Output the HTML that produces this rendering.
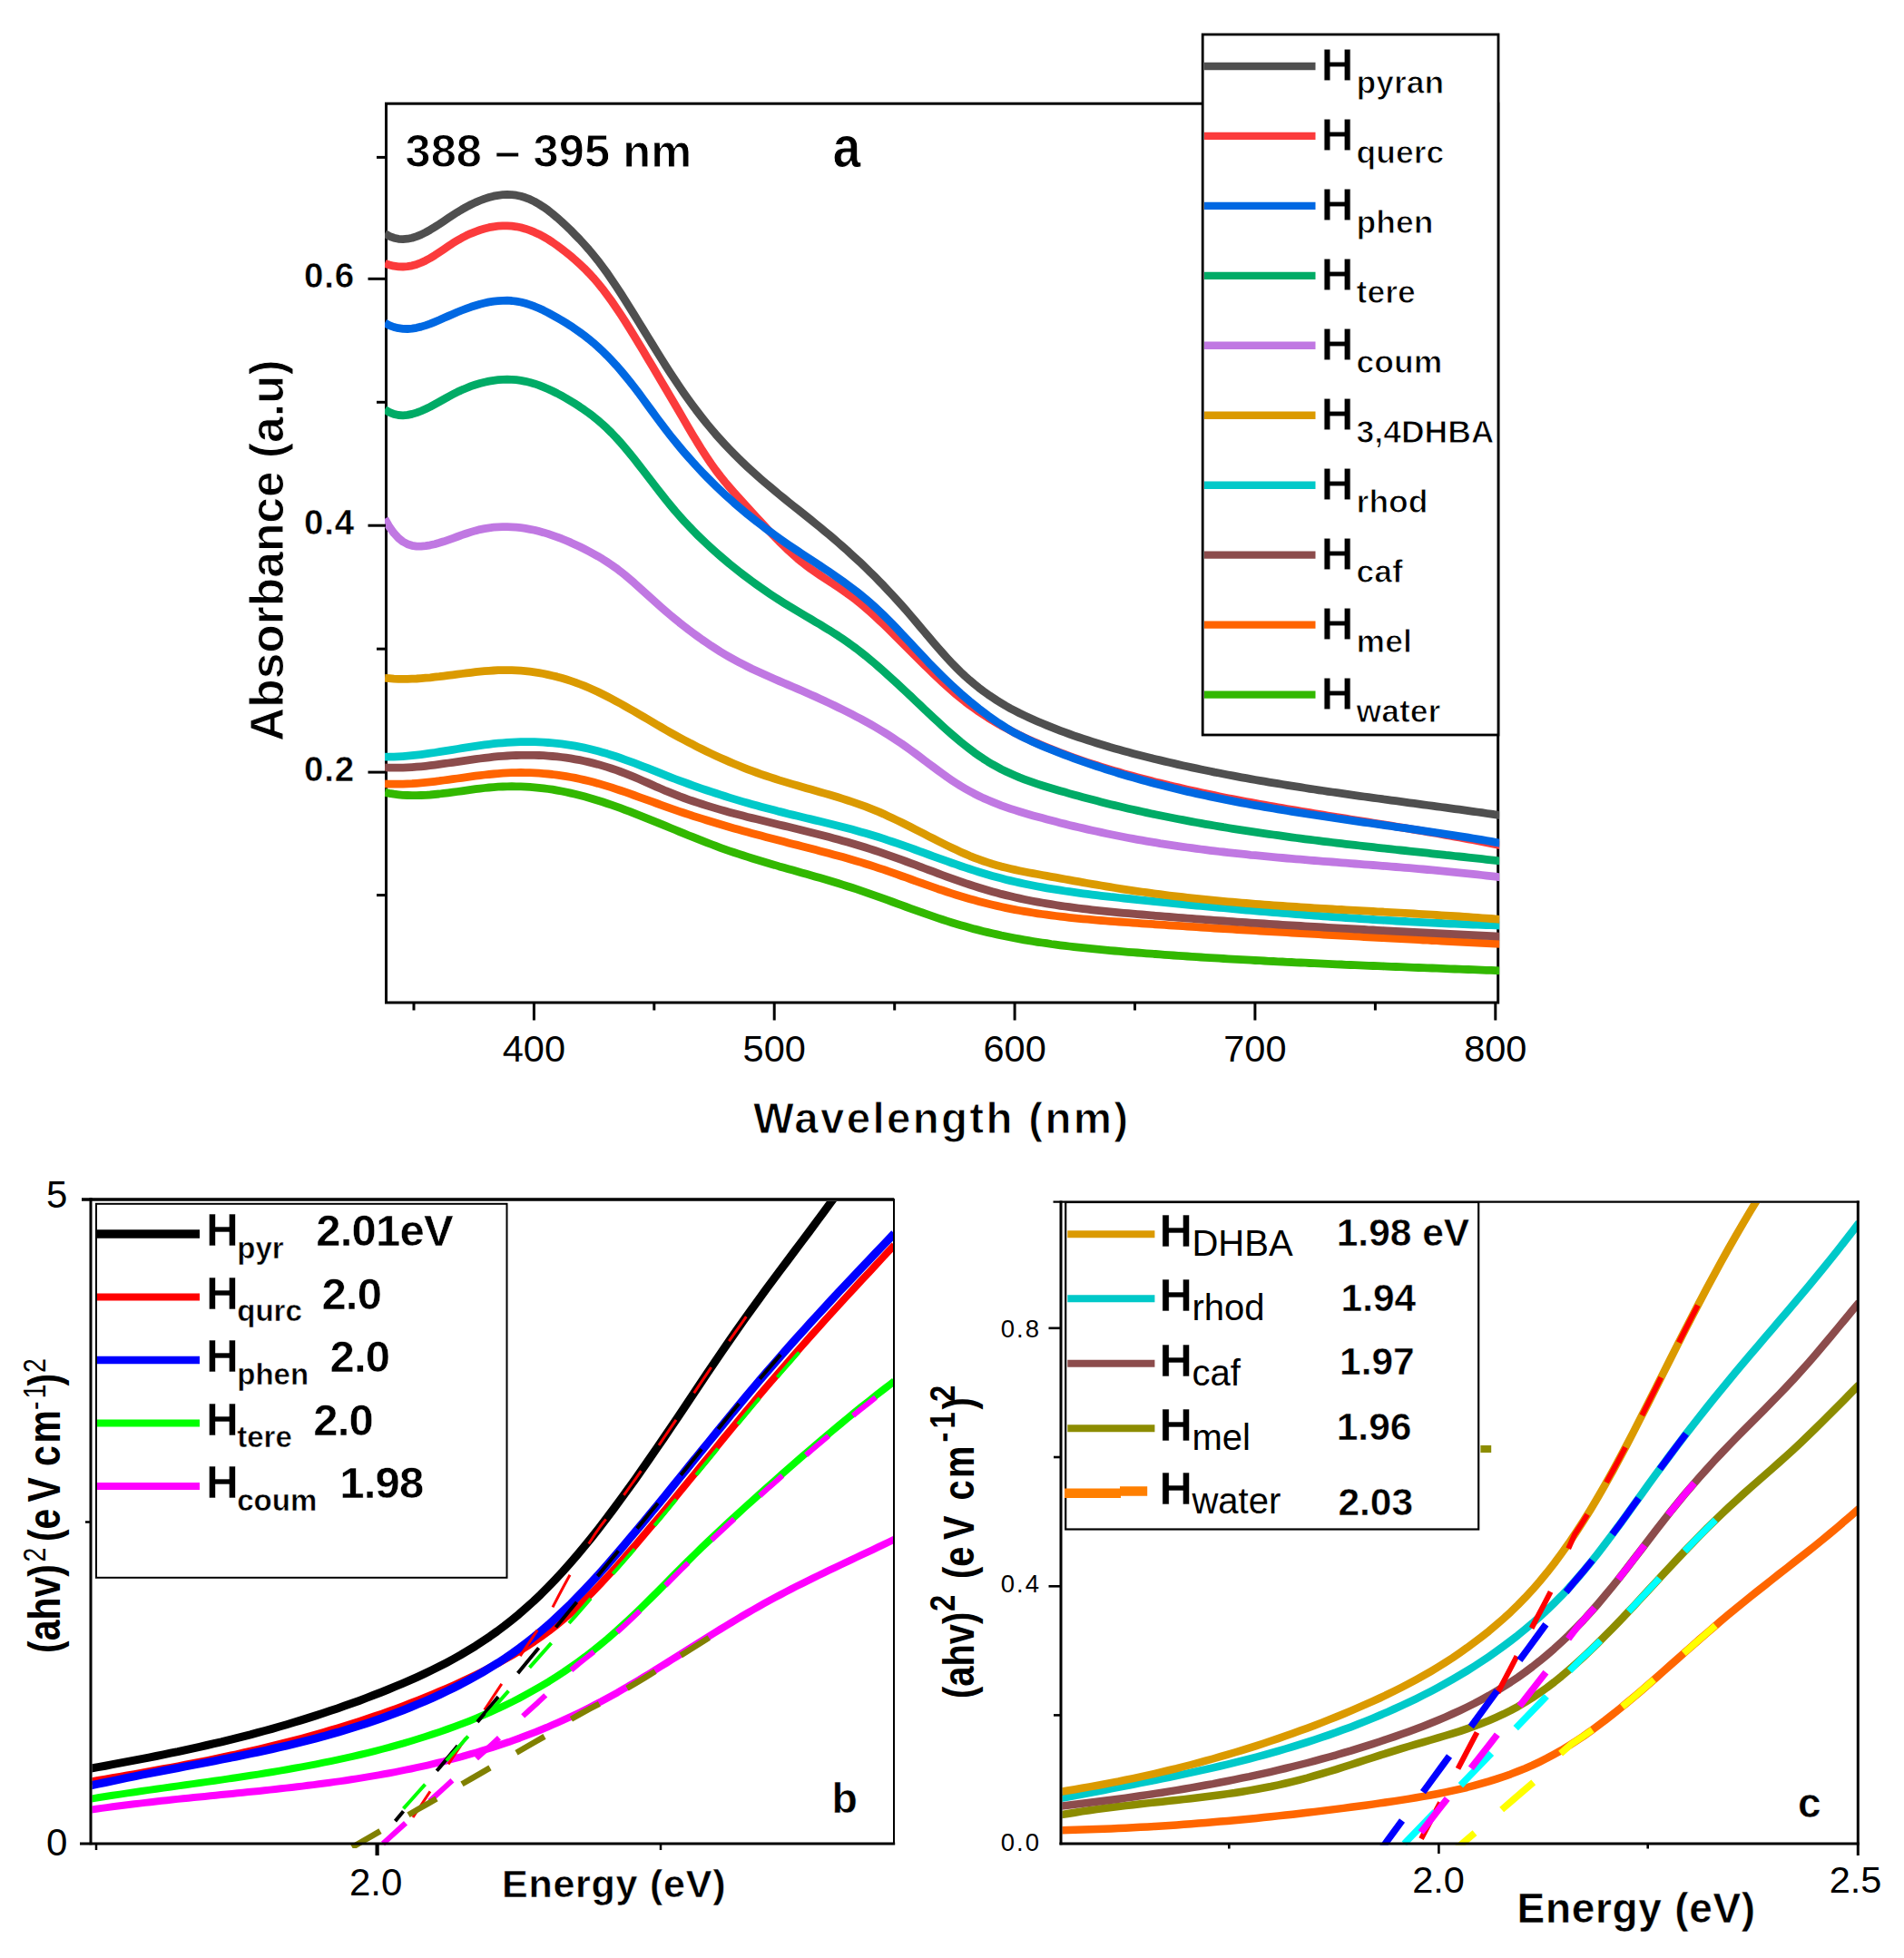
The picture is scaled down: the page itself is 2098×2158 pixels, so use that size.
<!DOCTYPE html>
<html lang="en"><head><meta charset="utf-8"><title>UV-Vis absorbance and Tauc plots</title>
<style>
html,body{margin:0;padding:0;background:#fff;}
svg{display:block}
text{font-family:"Liberation Sans",Arial,Helvetica,sans-serif;fill:#000}
.b{font-weight:bold;stroke:#fff;stroke-width:1px;paint-order:fill stroke}
.b2{font-weight:bold;stroke:#fff;stroke-width:0.5px;paint-order:fill stroke}
.n{font-weight:normal;stroke:none}
.b3{font-weight:bold}
.c{fill:none;stroke-linejoin:round;stroke-linecap:butt}
.k{stroke:#000;fill:none}
</style></head><body>
<svg width="2098" height="2158" viewBox="0 0 2098 2158">
<rect width="2098" height="2158" fill="#fff"/>
<defs>
<clipPath id="ca"><rect x="424" y="115.5" width="1228.2" height="988"/></clipPath>
<clipPath id="cb"><rect x="101.5" y="1324" width="883" height="707"/></clipPath>
<clipPath id="cb2"><rect x="101.5" y="1324" width="883" height="713"/></clipPath>
<clipPath id="cc"><rect x="1170.5" y="1326" width="875.5" height="704.5"/></clipPath>
<clipPath id="cc2"><rect x="1170.5" y="1326" width="875.5" height="707.5"/></clipPath>
</defs>

<g id="panel-a">
<rect class="k" x="425.5" y="114.2" width="1225.2" height="990.8" stroke-width="3"/>
<g clip-path="url(#ca)">
<path class="c" d="M424.0,873.4 429.0,874.4 434.0,875.2 439.0,875.8 444.0,876.3 449.0,876.5 454.0,876.7 459.0,876.7 464.0,876.5 469.0,876.3 474.0,876.0 479.0,875.5 484.0,875.0 488.9,874.4 493.9,873.8 498.9,873.2 503.9,872.5 508.9,871.8 513.9,871.1 518.9,870.4 523.9,869.7 528.9,869.1 533.9,868.5 538.9,868.0 543.9,867.6 548.9,867.2 553.9,867.0 558.9,866.8 563.9,866.7 568.9,866.8 573.9,866.9 578.9,867.1 583.9,867.4 588.9,867.8 593.9,868.3 598.9,868.8 603.9,869.5 608.8,870.2 613.8,871.1 618.8,872.0 623.8,873.0 628.8,874.1 633.8,875.2 638.8,876.5 643.8,877.8 648.8,879.2 653.8,880.7 658.8,882.2 663.8,883.8 668.8,885.5 673.8,887.2 678.8,888.9 683.8,890.7 688.8,892.6 693.8,894.4 698.8,896.4 703.8,898.3 708.8,900.3 713.8,902.3 718.8,904.3 723.8,906.3 728.8,908.4 733.7,910.4 738.7,912.5 743.7,914.5 748.7,916.6 753.7,918.6 758.7,920.7 763.7,922.7 768.7,924.7 773.7,926.7 778.7,928.6 783.7,930.5 788.7,932.4 793.7,934.3 798.7,936.1 803.7,937.8 808.7,939.5 813.7,941.2 818.7,942.8 823.7,944.4 828.7,946.0 833.7,947.5 838.7,949.0 843.7,950.5 848.7,952.0 853.7,953.4 858.6,954.9 863.6,956.3 868.6,957.7 873.6,959.1 878.6,960.5 883.6,961.9 888.6,963.3 893.6,964.7 898.6,966.2 903.6,967.6 908.6,969.0 913.6,970.5 918.6,972.0 923.6,973.5 928.6,975.1 933.6,976.7 938.6,978.3 943.6,979.9 948.6,981.6 953.6,983.3 958.6,985.1 963.6,986.8 968.6,988.6 973.6,990.4 978.5,992.2 983.5,994.0 988.5,995.9 993.5,997.7 998.5,999.5 1003.5,1001.3 1008.5,1003.1 1013.5,1004.9 1018.5,1006.7 1023.5,1008.4 1028.5,1010.1 1033.5,1011.8 1038.5,1013.5 1043.5,1015.1 1048.5,1016.7 1053.5,1018.2 1058.5,1019.7 1063.5,1021.1 1068.5,1022.5 1073.5,1023.9 1078.5,1025.1 1083.5,1026.4 1088.5,1027.6 1093.5,1028.8 1098.5,1029.9 1103.4,1031.0 1108.4,1032.0 1113.4,1033.0 1118.4,1034.0 1123.4,1034.9 1128.4,1035.8 1133.4,1036.6 1138.4,1037.5 1143.4,1038.3 1148.4,1039.0 1153.4,1039.7 1158.4,1040.5 1163.4,1041.1 1168.4,1041.8 1173.4,1042.4 1178.4,1043.0 1183.4,1043.6 1188.4,1044.2 1193.4,1044.7 1198.4,1045.2 1203.4,1045.7 1208.4,1046.2 1213.4,1046.7 1218.4,1047.1 1223.3,1047.6 1228.3,1048.0 1233.3,1048.4 1238.3,1048.9 1243.3,1049.3 1248.3,1049.6 1253.3,1050.0 1258.3,1050.4 1263.3,1050.8 1268.3,1051.2 1273.3,1051.5 1278.3,1051.9 1283.3,1052.3 1288.3,1052.6 1293.3,1053.0 1298.3,1053.3 1303.3,1053.6 1308.3,1054.0 1313.3,1054.3 1318.3,1054.6 1323.3,1055.0 1328.3,1055.3 1333.3,1055.6 1338.3,1055.9 1343.3,1056.2 1348.2,1056.5 1353.2,1056.8 1358.2,1057.1 1363.2,1057.4 1368.2,1057.6 1373.2,1057.9 1378.2,1058.2 1383.2,1058.5 1388.2,1058.7 1393.2,1059.0 1398.2,1059.3 1403.2,1059.5 1408.2,1059.8 1413.2,1060.0 1418.2,1060.3 1423.2,1060.5 1428.2,1060.8 1433.2,1061.0 1438.2,1061.2 1443.2,1061.5 1448.2,1061.7 1453.2,1061.9 1458.2,1062.2 1463.2,1062.4 1468.2,1062.6 1473.1,1062.8 1478.1,1063.0 1483.1,1063.3 1488.1,1063.5 1493.1,1063.7 1498.1,1063.9 1503.1,1064.1 1508.1,1064.3 1513.1,1064.5 1518.1,1064.7 1523.1,1064.9 1528.1,1065.1 1533.1,1065.3 1538.1,1065.5 1543.1,1065.7 1548.1,1065.9 1553.1,1066.1 1558.1,1066.3 1563.1,1066.5 1568.1,1066.7 1573.1,1066.8 1578.1,1067.0 1583.1,1067.2 1588.1,1067.4 1593.0,1067.6 1598.0,1067.8 1603.0,1068.0 1608.0,1068.1 1613.0,1068.3 1618.0,1068.5 1623.0,1068.7 1628.0,1068.9 1633.0,1069.1 1638.0,1069.3 1643.0,1069.4 1648.0,1069.6 1653.0,1069.8" stroke="#32b800" stroke-width="8.8"/>
<path class="c" d="M424.0,863.9 429.0,864.1 434.0,864.2 439.0,864.2 444.0,864.1 449.0,863.9 454.0,863.7 459.0,863.3 464.0,862.9 469.0,862.4 474.0,861.9 479.0,861.3 484.0,860.7 488.9,860.0 493.9,859.4 498.9,858.7 503.9,858.0 508.9,857.3 513.9,856.6 518.9,855.9 523.9,855.2 528.9,854.6 533.9,854.0 538.9,853.5 543.9,853.0 548.9,852.6 553.9,852.2 558.9,851.9 563.9,851.7 568.9,851.6 573.9,851.5 578.9,851.6 583.9,851.7 588.9,851.9 593.9,852.2 598.9,852.6 603.9,853.0 608.8,853.5 613.8,854.2 618.8,854.9 623.8,855.6 628.8,856.5 633.8,857.4 638.8,858.5 643.8,859.6 648.8,860.8 653.8,862.1 658.8,863.4 663.8,864.9 668.8,866.4 673.8,867.9 678.8,869.6 683.8,871.2 688.8,872.9 693.8,874.7 698.8,876.5 703.8,878.3 708.8,880.1 713.8,881.9 718.8,883.7 723.8,885.5 728.8,887.3 733.7,889.1 738.7,890.9 743.7,892.6 748.7,894.3 753.7,896.0 758.7,897.6 763.7,899.3 768.7,900.9 773.7,902.4 778.7,904.0 783.7,905.5 788.7,907.0 793.7,908.5 798.7,910.0 803.7,911.5 808.7,912.9 813.7,914.3 818.7,915.7 823.7,917.1 828.7,918.4 833.7,919.8 838.7,921.1 843.7,922.4 848.7,923.7 853.7,925.0 858.6,926.3 863.6,927.6 868.6,928.9 873.6,930.2 878.6,931.4 883.6,932.7 888.6,934.0 893.6,935.3 898.6,936.6 903.6,937.9 908.6,939.2 913.6,940.5 918.6,941.9 923.6,943.2 928.6,944.6 933.6,946.0 938.6,947.5 943.6,948.9 948.6,950.4 953.6,952.0 958.6,953.5 963.6,955.1 968.6,956.8 973.6,958.4 978.5,960.2 983.5,961.9 988.5,963.7 993.5,965.5 998.5,967.2 1003.5,969.0 1008.5,970.9 1013.5,972.6 1018.5,974.4 1023.5,976.2 1028.5,977.9 1033.5,979.7 1038.5,981.3 1043.5,983.0 1048.5,984.6 1053.5,986.2 1058.5,987.7 1063.5,989.2 1068.5,990.7 1073.5,992.1 1078.5,993.5 1083.5,994.8 1088.5,996.0 1093.5,997.2 1098.5,998.4 1103.4,999.5 1108.4,1000.6 1113.4,1001.6 1118.4,1002.6 1123.4,1003.5 1128.4,1004.4 1133.4,1005.2 1138.4,1006.0 1143.4,1006.8 1148.4,1007.5 1153.4,1008.2 1158.4,1008.9 1163.4,1009.5 1168.4,1010.1 1173.4,1010.7 1178.4,1011.3 1183.4,1011.8 1188.4,1012.3 1193.4,1012.8 1198.4,1013.2 1203.4,1013.7 1208.4,1014.1 1213.4,1014.5 1218.4,1014.9 1223.3,1015.3 1228.3,1015.7 1233.3,1016.0 1238.3,1016.4 1243.3,1016.7 1248.3,1017.1 1253.3,1017.4 1258.3,1017.8 1263.3,1018.1 1268.3,1018.4 1273.3,1018.8 1278.3,1019.1 1283.3,1019.4 1288.3,1019.8 1293.3,1020.1 1298.3,1020.4 1303.3,1020.7 1308.3,1021.1 1313.3,1021.4 1318.3,1021.7 1323.3,1022.0 1328.3,1022.3 1333.3,1022.6 1338.3,1023.0 1343.3,1023.3 1348.2,1023.6 1353.2,1023.9 1358.2,1024.2 1363.2,1024.5 1368.2,1024.8 1373.2,1025.1 1378.2,1025.4 1383.2,1025.7 1388.2,1026.0 1393.2,1026.3 1398.2,1026.6 1403.2,1026.9 1408.2,1027.2 1413.2,1027.4 1418.2,1027.7 1423.2,1028.0 1428.2,1028.3 1433.2,1028.6 1438.2,1028.9 1443.2,1029.2 1448.2,1029.4 1453.2,1029.7 1458.2,1030.0 1463.2,1030.3 1468.2,1030.6 1473.1,1030.8 1478.1,1031.1 1483.1,1031.4 1488.1,1031.7 1493.1,1031.9 1498.1,1032.2 1503.1,1032.5 1508.1,1032.8 1513.1,1033.0 1518.1,1033.3 1523.1,1033.6 1528.1,1033.8 1533.1,1034.1 1538.1,1034.4 1543.1,1034.6 1548.1,1034.9 1553.1,1035.2 1558.1,1035.4 1563.1,1035.7 1568.1,1036.0 1573.1,1036.2 1578.1,1036.5 1583.1,1036.7 1588.1,1037.0 1593.0,1037.3 1598.0,1037.5 1603.0,1037.8 1608.0,1038.1 1613.0,1038.3 1618.0,1038.6 1623.0,1038.8 1628.0,1039.1 1633.0,1039.4 1638.0,1039.6 1643.0,1039.9 1648.0,1040.1 1653.0,1040.4" stroke="#ff6400" stroke-width="8.8"/>
<path class="c" d="M424.0,845.9 429.0,846.1 434.0,846.2 439.0,846.2 444.0,846.1 449.0,845.9 454.0,845.6 459.0,845.2 464.0,844.8 469.0,844.3 474.0,843.7 479.0,843.1 484.0,842.4 488.9,841.7 493.9,841.0 498.9,840.3 503.9,839.6 508.9,838.8 513.9,838.1 518.9,837.4 523.9,836.7 528.9,836.0 533.9,835.4 538.9,834.8 543.9,834.2 548.9,833.7 553.9,833.3 558.9,833.0 563.9,832.7 568.9,832.5 573.9,832.3 578.9,832.3 583.9,832.3 588.9,832.3 593.9,832.5 598.9,832.7 603.9,833.1 608.8,833.5 613.8,833.9 618.8,834.5 623.8,835.2 628.8,835.9 633.8,836.8 638.8,837.7 643.8,838.7 648.8,839.9 653.8,841.1 658.8,842.4 663.8,843.9 668.8,845.4 673.8,847.0 678.8,848.7 683.8,850.5 688.8,852.4 693.8,854.4 698.8,856.4 703.8,858.5 708.8,860.7 713.8,862.9 718.8,865.1 723.8,867.4 728.8,869.5 733.7,871.7 738.7,873.7 743.7,875.7 748.7,877.7 753.7,879.5 758.7,881.3 763.7,883.0 768.7,884.7 773.7,886.3 778.7,887.9 783.7,889.4 788.7,890.9 793.7,892.4 798.7,893.8 803.7,895.2 808.7,896.5 813.7,897.8 818.7,899.1 823.7,900.4 828.7,901.6 833.7,902.8 838.7,904.1 843.7,905.3 848.7,906.5 853.7,907.7 858.6,908.9 863.6,910.1 868.6,911.3 873.6,912.5 878.6,913.7 883.6,915.0 888.6,916.2 893.6,917.5 898.6,918.7 903.6,920.0 908.6,921.3 913.6,922.6 918.6,923.9 923.6,925.3 928.6,926.7 933.6,928.1 938.6,929.5 943.6,931.0 948.6,932.5 953.6,934.0 958.6,935.6 963.6,937.2 968.6,938.9 973.6,940.6 978.5,942.3 983.5,944.1 988.5,945.9 993.5,947.7 998.5,949.5 1003.5,951.4 1008.5,953.2 1013.5,955.1 1018.5,957.0 1023.5,958.9 1028.5,960.7 1033.5,962.6 1038.5,964.5 1043.5,966.3 1048.5,968.1 1053.5,969.9 1058.5,971.6 1063.5,973.4 1068.5,975.0 1073.5,976.7 1078.5,978.3 1083.5,979.8 1088.5,981.3 1093.5,982.7 1098.5,984.1 1103.4,985.4 1108.4,986.6 1113.4,987.8 1118.4,989.0 1123.4,990.1 1128.4,991.2 1133.4,992.2 1138.4,993.2 1143.4,994.1 1148.4,995.0 1153.4,995.9 1158.4,996.7 1163.4,997.5 1168.4,998.3 1173.4,999.0 1178.4,999.7 1183.4,1000.3 1188.4,1001.0 1193.4,1001.6 1198.4,1002.2 1203.4,1002.8 1208.4,1003.3 1213.4,1003.8 1218.4,1004.3 1223.3,1004.8 1228.3,1005.3 1233.3,1005.8 1238.3,1006.3 1243.3,1006.7 1248.3,1007.1 1253.3,1007.6 1258.3,1008.0 1263.3,1008.4 1268.3,1008.9 1273.3,1009.3 1278.3,1009.7 1283.3,1010.1 1288.3,1010.5 1293.3,1010.9 1298.3,1011.3 1303.3,1011.7 1308.3,1012.1 1313.3,1012.4 1318.3,1012.8 1323.3,1013.2 1328.3,1013.6 1333.3,1013.9 1338.3,1014.3 1343.3,1014.7 1348.2,1015.0 1353.2,1015.4 1358.2,1015.7 1363.2,1016.1 1368.2,1016.4 1373.2,1016.7 1378.2,1017.1 1383.2,1017.4 1388.2,1017.7 1393.2,1018.0 1398.2,1018.4 1403.2,1018.7 1408.2,1019.0 1413.2,1019.3 1418.2,1019.6 1423.2,1019.9 1428.2,1020.2 1433.2,1020.5 1438.2,1020.8 1443.2,1021.1 1448.2,1021.4 1453.2,1021.7 1458.2,1022.0 1463.2,1022.3 1468.2,1022.6 1473.1,1022.8 1478.1,1023.1 1483.1,1023.4 1488.1,1023.7 1493.1,1024.0 1498.1,1024.2 1503.1,1024.5 1508.1,1024.8 1513.1,1025.0 1518.1,1025.3 1523.1,1025.6 1528.1,1025.8 1533.1,1026.1 1538.1,1026.3 1543.1,1026.6 1548.1,1026.9 1553.1,1027.1 1558.1,1027.4 1563.1,1027.6 1568.1,1027.9 1573.1,1028.1 1578.1,1028.4 1583.1,1028.6 1588.1,1028.9 1593.0,1029.1 1598.0,1029.4 1603.0,1029.6 1608.0,1029.9 1613.0,1030.1 1618.0,1030.4 1623.0,1030.6 1628.0,1030.8 1633.0,1031.1 1638.0,1031.3 1643.0,1031.6 1648.0,1031.8 1653.0,1032.1" stroke="#8c4c4c" stroke-width="8.8"/>
<path class="c" d="M424.0,834.2 429.0,834.2 434.0,834.1 439.0,833.9 444.0,833.6 449.0,833.2 454.0,832.7 459.0,832.2 464.0,831.6 469.0,830.9 474.0,830.2 479.0,829.5 484.0,828.7 488.9,827.9 493.9,827.1 498.9,826.3 503.9,825.5 508.9,824.7 513.9,823.9 518.9,823.1 523.9,822.3 528.9,821.6 533.9,820.9 538.9,820.3 543.9,819.7 548.9,819.2 553.9,818.8 558.9,818.4 563.9,818.1 568.9,817.9 573.9,817.7 578.9,817.7 583.9,817.7 588.9,817.7 593.9,817.9 598.9,818.1 603.9,818.5 608.8,818.9 613.8,819.4 618.8,819.9 623.8,820.6 628.8,821.3 633.8,822.2 638.8,823.1 643.8,824.1 648.8,825.2 653.8,826.5 658.8,827.8 663.8,829.2 668.8,830.6 673.8,832.2 678.8,833.8 683.8,835.5 688.8,837.3 693.8,839.1 698.8,840.9 703.8,842.8 708.8,844.8 713.8,846.7 718.8,848.7 723.8,850.7 728.8,852.7 733.7,854.6 738.7,856.6 743.7,858.5 748.7,860.3 753.7,862.2 758.7,864.0 763.7,865.8 768.7,867.6 773.7,869.3 778.7,871.0 783.7,872.7 788.7,874.3 793.7,875.9 798.7,877.5 803.7,879.1 808.7,880.6 813.7,882.1 818.7,883.6 823.7,885.0 828.7,886.4 833.7,887.8 838.7,889.2 843.7,890.5 848.7,891.8 853.7,893.1 858.6,894.4 863.6,895.6 868.6,896.9 873.6,898.1 878.6,899.3 883.6,900.5 888.6,901.7 893.6,902.9 898.6,904.1 903.6,905.3 908.6,906.5 913.6,907.7 918.6,909.0 923.6,910.2 928.6,911.5 933.6,912.8 938.6,914.1 943.6,915.5 948.6,916.9 953.6,918.3 958.6,919.8 963.6,921.3 968.6,922.8 973.6,924.4 978.5,926.1 983.5,927.7 988.5,929.4 993.5,931.2 998.5,932.9 1003.5,934.7 1008.5,936.5 1013.5,938.3 1018.5,940.2 1023.5,942.0 1028.5,943.8 1033.5,945.6 1038.5,947.4 1043.5,949.2 1048.5,951.0 1053.5,952.7 1058.5,954.5 1063.5,956.2 1068.5,957.8 1073.5,959.4 1078.5,961.0 1083.5,962.5 1088.5,964.0 1093.5,965.4 1098.5,966.8 1103.4,968.1 1108.4,969.4 1113.4,970.6 1118.4,971.8 1123.4,972.9 1128.4,974.0 1133.4,975.0 1138.4,976.0 1143.4,977.0 1148.4,977.9 1153.4,978.8 1158.4,979.6 1163.4,980.4 1168.4,981.2 1173.4,982.0 1178.4,982.7 1183.4,983.4 1188.4,984.1 1193.4,984.8 1198.4,985.4 1203.4,986.1 1208.4,986.7 1213.4,987.3 1218.4,987.8 1223.3,988.4 1228.3,988.9 1233.3,989.5 1238.3,990.0 1243.3,990.5 1248.3,991.0 1253.3,991.6 1258.3,992.1 1263.3,992.6 1268.3,993.1 1273.3,993.6 1278.3,994.1 1283.3,994.6 1288.3,995.1 1293.3,995.6 1298.3,996.0 1303.3,996.5 1308.3,997.0 1313.3,997.5 1318.3,998.0 1323.3,998.4 1328.3,998.9 1333.3,999.4 1338.3,999.8 1343.3,1000.3 1348.2,1000.7 1353.2,1001.2 1358.2,1001.6 1363.2,1002.1 1368.2,1002.5 1373.2,1003.0 1378.2,1003.4 1383.2,1003.8 1388.2,1004.3 1393.2,1004.7 1398.2,1005.1 1403.2,1005.5 1408.2,1005.9 1413.2,1006.3 1418.2,1006.7 1423.2,1007.1 1428.2,1007.5 1433.2,1007.9 1438.2,1008.3 1443.2,1008.7 1448.2,1009.0 1453.2,1009.4 1458.2,1009.8 1463.2,1010.1 1468.2,1010.5 1473.1,1010.8 1478.1,1011.2 1483.1,1011.5 1488.1,1011.9 1493.1,1012.2 1498.1,1012.5 1503.1,1012.9 1508.1,1013.2 1513.1,1013.5 1518.1,1013.8 1523.1,1014.1 1528.1,1014.4 1533.1,1014.7 1538.1,1015.0 1543.1,1015.3 1548.1,1015.5 1553.1,1015.8 1558.1,1016.1 1563.1,1016.3 1568.1,1016.6 1573.1,1016.8 1578.1,1017.1 1583.1,1017.3 1588.1,1017.5 1593.0,1017.8 1598.0,1018.0 1603.0,1018.2 1608.0,1018.4 1613.0,1018.6 1618.0,1018.8 1623.0,1019.0 1628.0,1019.1 1633.0,1019.3 1638.0,1019.5 1643.0,1019.7 1648.0,1019.8 1653.0,1020.0" stroke="#00c9c9" stroke-width="8.8"/>
<path class="c" d="M424.0,747.3 429.0,747.7 434.0,748.1 439.0,748.3 444.0,748.4 449.0,748.4 454.0,748.2 459.0,748.0 464.0,747.6 469.0,747.2 474.0,746.8 479.0,746.2 484.0,745.7 488.9,745.1 493.9,744.4 498.9,743.8 503.9,743.1 508.9,742.5 513.9,741.9 518.9,741.3 523.9,740.7 528.9,740.2 533.9,739.7 538.9,739.3 543.9,739.0 548.9,738.7 553.9,738.6 558.9,738.6 563.9,738.7 568.9,738.9 573.9,739.2 578.9,739.6 583.9,740.2 588.9,740.9 593.9,741.6 598.9,742.5 603.9,743.6 608.8,744.7 613.8,745.9 618.8,747.3 623.8,748.8 628.8,750.4 633.8,752.1 638.8,754.0 643.8,755.9 648.8,758.0 653.8,760.2 658.8,762.5 663.8,765.0 668.8,767.5 673.8,770.1 678.8,772.8 683.8,775.5 688.8,778.3 693.8,781.2 698.8,784.0 703.8,787.0 708.8,789.9 713.8,792.8 718.8,795.8 723.8,798.7 728.8,801.6 733.7,804.5 738.7,807.3 743.7,810.1 748.7,812.8 753.7,815.5 758.7,818.1 763.7,820.7 768.7,823.3 773.7,825.8 778.7,828.2 783.7,830.6 788.7,832.9 793.7,835.2 798.7,837.4 803.7,839.6 808.7,841.7 813.7,843.8 818.7,845.8 823.7,847.8 828.7,849.7 833.7,851.5 838.7,853.3 843.7,855.0 848.7,856.7 853.7,858.3 858.6,859.9 863.6,861.4 868.6,862.9 873.6,864.4 878.6,865.8 883.6,867.2 888.6,868.7 893.6,870.1 898.6,871.5 903.6,872.9 908.6,874.4 913.6,875.8 918.6,877.3 923.6,878.8 928.6,880.4 933.6,882.0 938.6,883.6 943.6,885.3 948.6,887.1 953.6,888.9 958.6,890.9 963.6,892.9 968.6,894.9 973.6,897.1 978.5,899.4 983.5,901.7 988.5,904.1 993.5,906.5 998.5,909.0 1003.5,911.5 1008.5,914.1 1013.5,916.6 1018.5,919.2 1023.5,921.8 1028.5,924.3 1033.5,926.9 1038.5,929.4 1043.5,931.9 1048.5,934.3 1053.5,936.6 1058.5,938.9 1063.5,941.1 1068.5,943.3 1073.5,945.3 1078.5,947.2 1083.5,949.0 1088.5,950.7 1093.5,952.3 1098.5,953.7 1103.4,955.1 1108.4,956.3 1113.4,957.5 1118.4,958.6 1123.4,959.7 1128.4,960.7 1133.4,961.7 1138.4,962.6 1143.4,963.5 1148.4,964.5 1153.4,965.4 1158.4,966.3 1163.4,967.2 1168.4,968.1 1173.4,969.0 1178.4,969.9 1183.4,970.8 1188.4,971.7 1193.4,972.6 1198.4,973.5 1203.4,974.3 1208.4,975.2 1213.4,976.0 1218.4,976.9 1223.3,977.7 1228.3,978.5 1233.3,979.3 1238.3,980.1 1243.3,980.8 1248.3,981.6 1253.3,982.3 1258.3,983.0 1263.3,983.7 1268.3,984.4 1273.3,985.1 1278.3,985.7 1283.3,986.3 1288.3,987.0 1293.3,987.6 1298.3,988.2 1303.3,988.7 1308.3,989.3 1313.3,989.9 1318.3,990.4 1323.3,990.9 1328.3,991.4 1333.3,991.9 1338.3,992.4 1343.3,992.9 1348.2,993.3 1353.2,993.8 1358.2,994.2 1363.2,994.7 1368.2,995.1 1373.2,995.5 1378.2,995.9 1383.2,996.3 1388.2,996.7 1393.2,997.1 1398.2,997.4 1403.2,997.8 1408.2,998.2 1413.2,998.5 1418.2,998.8 1423.2,999.2 1428.2,999.5 1433.2,999.8 1438.2,1000.2 1443.2,1000.5 1448.2,1000.8 1453.2,1001.1 1458.2,1001.4 1463.2,1001.7 1468.2,1002.0 1473.1,1002.3 1478.1,1002.5 1483.1,1002.8 1488.1,1003.1 1493.1,1003.4 1498.1,1003.7 1503.1,1003.9 1508.1,1004.2 1513.1,1004.5 1518.1,1004.8 1523.1,1005.0 1528.1,1005.3 1533.1,1005.6 1538.1,1005.9 1543.1,1006.1 1548.1,1006.4 1553.1,1006.7 1558.1,1007.0 1563.1,1007.3 1568.1,1007.6 1573.1,1007.9 1578.1,1008.2 1583.1,1008.5 1588.1,1008.8 1593.0,1009.1 1598.0,1009.4 1603.0,1009.7 1608.0,1010.0 1613.0,1010.4 1618.0,1010.7 1623.0,1011.1 1628.0,1011.4 1633.0,1011.8 1638.0,1012.1 1643.0,1012.5 1648.0,1012.9 1653.0,1013.3" stroke="#db9a00" stroke-width="8.8"/>
<path class="c" d="M424.0,571.7 429.0,580.6 434.0,587.6 439.0,593.0 444.0,597.0 449.0,599.7 454.0,601.3 459.0,602.1 464.0,602.1 469.0,601.6 474.0,600.8 479.0,599.7 484.0,598.3 488.9,596.8 493.9,595.1 498.9,593.3 503.9,591.5 508.9,589.7 513.9,588.0 518.9,586.4 523.9,584.9 528.9,583.6 533.9,582.6 538.9,581.8 543.9,581.2 548.9,580.8 553.9,580.6 558.9,580.6 563.9,580.8 568.9,581.1 573.9,581.7 578.9,582.4 583.9,583.3 588.9,584.3 593.9,585.6 598.9,586.9 603.9,588.4 608.8,590.1 613.8,591.8 618.8,593.7 623.8,595.8 628.8,597.9 633.8,600.2 638.8,602.5 643.8,605.0 648.8,607.6 653.8,610.3 658.8,613.1 663.8,616.1 668.8,619.3 673.8,622.6 678.8,626.1 683.8,629.9 688.8,633.9 693.8,638.1 698.8,642.4 703.8,646.9 708.8,651.5 713.8,656.1 718.8,660.6 723.8,665.1 728.8,669.5 733.7,673.8 738.7,678.0 743.7,682.1 748.7,686.2 753.7,690.1 758.7,694.0 763.7,697.7 768.7,701.4 773.7,705.0 778.7,708.4 783.7,711.8 788.7,715.0 793.7,718.2 798.7,721.2 803.7,724.1 808.7,726.9 813.7,729.6 818.7,732.2 823.7,734.7 828.7,737.2 833.7,739.5 838.7,741.8 843.7,744.1 848.7,746.3 853.7,748.5 858.6,750.6 863.6,752.7 868.6,754.9 873.6,757.0 878.6,759.1 883.6,761.3 888.6,763.5 893.6,765.7 898.6,767.9 903.6,770.2 908.6,772.5 913.6,774.9 918.6,777.2 923.6,779.7 928.6,782.1 933.6,784.6 938.6,787.2 943.6,789.8 948.6,792.4 953.6,795.2 958.6,797.9 963.6,800.8 968.6,803.7 973.6,806.7 978.5,809.8 983.5,813.0 988.5,816.3 993.5,819.6 998.5,823.1 1003.5,826.7 1008.5,830.4 1013.5,834.1 1018.5,837.9 1023.5,841.7 1028.5,845.4 1033.5,849.1 1038.5,852.8 1043.5,856.4 1048.5,859.8 1053.5,863.1 1058.5,866.3 1063.5,869.2 1068.5,872.0 1073.5,874.7 1078.5,877.2 1083.5,879.6 1088.5,881.8 1093.5,883.9 1098.5,885.9 1103.4,887.8 1108.4,889.6 1113.4,891.3 1118.4,892.9 1123.4,894.5 1128.4,896.0 1133.4,897.5 1138.4,898.9 1143.4,900.3 1148.4,901.6 1153.4,903.0 1158.4,904.3 1163.4,905.6 1168.4,906.9 1173.4,908.1 1178.4,909.4 1183.4,910.6 1188.4,911.8 1193.4,912.9 1198.4,914.1 1203.4,915.2 1208.4,916.3 1213.4,917.4 1218.4,918.5 1223.3,919.5 1228.3,920.5 1233.3,921.5 1238.3,922.5 1243.3,923.5 1248.3,924.4 1253.3,925.3 1258.3,926.2 1263.3,927.1 1268.3,927.9 1273.3,928.7 1278.3,929.6 1283.3,930.3 1288.3,931.1 1293.3,931.9 1298.3,932.6 1303.3,933.3 1308.3,934.0 1313.3,934.7 1318.3,935.4 1323.3,936.0 1328.3,936.6 1333.3,937.3 1338.3,937.9 1343.3,938.5 1348.2,939.0 1353.2,939.6 1358.2,940.2 1363.2,940.7 1368.2,941.2 1373.2,941.7 1378.2,942.3 1383.2,942.7 1388.2,943.2 1393.2,943.7 1398.2,944.2 1403.2,944.6 1408.2,945.1 1413.2,945.5 1418.2,946.0 1423.2,946.4 1428.2,946.8 1433.2,947.2 1438.2,947.7 1443.2,948.1 1448.2,948.5 1453.2,948.9 1458.2,949.3 1463.2,949.7 1468.2,950.0 1473.1,950.4 1478.1,950.8 1483.1,951.2 1488.1,951.6 1493.1,952.0 1498.1,952.4 1503.1,952.8 1508.1,953.1 1513.1,953.5 1518.1,953.9 1523.1,954.3 1528.1,954.7 1533.1,955.1 1538.1,955.5 1543.1,955.9 1548.1,956.3 1553.1,956.7 1558.1,957.2 1563.1,957.6 1568.1,958.0 1573.1,958.5 1578.1,958.9 1583.1,959.4 1588.1,959.8 1593.0,960.3 1598.0,960.8 1603.0,961.3 1608.0,961.8 1613.0,962.3 1618.0,962.8 1623.0,963.4 1628.0,963.9 1633.0,964.5 1638.0,965.1 1643.0,965.6 1648.0,966.2 1653.0,966.9" stroke="#c078e2" stroke-width="8.8"/>
<path class="c" d="M424.0,451.3 429.0,454.4 434.0,456.4 439.0,457.5 444.0,457.8 449.0,457.4 454.0,456.4 459.0,454.9 464.0,453.0 469.0,450.8 474.0,448.4 479.0,445.7 484.0,442.9 488.9,440.1 493.9,437.3 498.9,434.7 503.9,432.1 508.9,429.8 513.9,427.7 518.9,425.7 523.9,424.0 528.9,422.5 533.9,421.2 538.9,420.1 543.9,419.3 548.9,418.7 553.9,418.3 558.9,418.2 563.9,418.3 568.9,418.7 573.9,419.4 578.9,420.3 583.9,421.5 588.9,422.9 593.9,424.6 598.9,426.6 603.9,428.7 608.8,431.0 613.8,433.5 618.8,436.2 623.8,439.0 628.8,442.0 633.8,445.1 638.8,448.3 643.8,451.7 648.8,455.3 653.8,459.1 658.8,463.2 663.8,467.5 668.8,472.1 673.8,477.0 678.8,482.2 683.8,487.8 688.8,493.6 693.8,499.6 698.8,505.8 703.8,512.2 708.8,518.6 713.8,525.1 718.8,531.6 723.8,538.1 728.8,544.5 733.7,550.8 738.7,556.9 743.7,562.9 748.7,568.6 753.7,574.2 758.7,579.5 763.7,584.7 768.7,589.8 773.7,594.7 778.7,599.4 783.7,604.0 788.7,608.5 793.7,612.9 798.7,617.2 803.7,621.4 808.7,625.4 813.7,629.4 818.7,633.3 823.7,637.1 828.7,640.8 833.7,644.4 838.7,647.9 843.7,651.4 848.7,654.8 853.7,658.1 858.6,661.3 863.6,664.4 868.6,667.5 873.6,670.6 878.6,673.6 883.6,676.5 888.6,679.5 893.6,682.4 898.6,685.4 903.6,688.3 908.6,691.4 913.6,694.4 918.6,697.6 923.6,700.8 928.6,704.2 933.6,707.6 938.6,711.2 943.6,714.9 948.6,718.8 953.6,722.7 958.6,726.8 963.6,731.0 968.6,735.3 973.6,739.7 978.5,744.2 983.5,748.7 988.5,753.3 993.5,757.9 998.5,762.6 1003.5,767.3 1008.5,772.1 1013.5,776.8 1018.5,781.6 1023.5,786.3 1028.5,791.0 1033.5,795.6 1038.5,800.2 1043.5,804.7 1048.5,809.1 1053.5,813.4 1058.5,817.6 1063.5,821.6 1068.5,825.5 1073.5,829.3 1078.5,832.8 1083.5,836.2 1088.5,839.4 1093.5,842.4 1098.5,845.2 1103.4,847.9 1108.4,850.3 1113.4,852.6 1118.4,854.8 1123.4,856.9 1128.4,858.8 1133.4,860.6 1138.4,862.4 1143.4,864.1 1148.4,865.7 1153.4,867.2 1158.4,868.7 1163.4,870.2 1168.4,871.7 1173.4,873.1 1178.4,874.6 1183.4,876.0 1188.4,877.3 1193.4,878.7 1198.4,880.0 1203.4,881.3 1208.4,882.6 1213.4,883.9 1218.4,885.2 1223.3,886.4 1228.3,887.6 1233.3,888.8 1238.3,890.0 1243.3,891.2 1248.3,892.3 1253.3,893.4 1258.3,894.5 1263.3,895.6 1268.3,896.7 1273.3,897.7 1278.3,898.8 1283.3,899.8 1288.3,900.8 1293.3,901.8 1298.3,902.8 1303.3,903.7 1308.3,904.6 1313.3,905.6 1318.3,906.5 1323.3,907.4 1328.3,908.3 1333.3,909.1 1338.3,910.0 1343.3,910.8 1348.2,911.7 1353.2,912.5 1358.2,913.3 1363.2,914.1 1368.2,914.9 1373.2,915.6 1378.2,916.4 1383.2,917.2 1388.2,917.9 1393.2,918.6 1398.2,919.3 1403.2,920.0 1408.2,920.7 1413.2,921.4 1418.2,922.1 1423.2,922.8 1428.2,923.5 1433.2,924.1 1438.2,924.8 1443.2,925.4 1448.2,926.0 1453.2,926.6 1458.2,927.3 1463.2,927.9 1468.2,928.5 1473.1,929.1 1478.1,929.7 1483.1,930.3 1488.1,930.8 1493.1,931.4 1498.1,932.0 1503.1,932.6 1508.1,933.1 1513.1,933.7 1518.1,934.3 1523.1,934.8 1528.1,935.4 1533.1,935.9 1538.1,936.5 1543.1,937.0 1548.1,937.5 1553.1,938.1 1558.1,938.6 1563.1,939.2 1568.1,939.7 1573.1,940.2 1578.1,940.8 1583.1,941.3 1588.1,941.8 1593.0,942.4 1598.0,942.9 1603.0,943.5 1608.0,944.0 1613.0,944.5 1618.0,945.1 1623.0,945.6 1628.0,946.2 1633.0,946.7 1638.0,947.3 1643.0,947.8 1648.0,948.4 1653.0,949.0" stroke="#00ab66" stroke-width="8.8"/>
<path class="c" d="M424.0,290.3 429.0,292.0 434.0,293.2 439.0,293.8 444.0,294.0 449.0,293.6 454.0,292.8 459.0,291.4 464.0,289.5 469.0,287.2 474.0,284.5 479.0,281.4 484.0,278.1 488.9,274.8 493.9,271.4 498.9,268.1 503.9,265.1 508.9,262.2 513.9,259.6 518.9,257.3 523.9,255.3 528.9,253.5 533.9,252.0 538.9,250.7 543.9,249.8 548.9,249.2 553.9,248.9 558.9,248.9 563.9,249.2 568.9,249.8 573.9,250.8 578.9,252.2 583.9,253.9 588.9,255.9 593.9,258.2 598.9,260.9 603.9,263.8 608.8,267.0 613.8,270.5 618.8,274.2 623.8,278.1 628.8,282.2 633.8,286.5 638.8,291.0 643.8,295.7 648.8,300.8 653.8,306.2 658.8,312.0 663.8,318.2 668.8,324.8 673.8,331.7 678.8,338.9 683.8,346.4 688.8,354.2 693.8,362.1 698.8,370.3 703.8,378.5 708.8,386.8 713.8,395.2 718.8,403.6 723.8,412.0 728.8,420.4 733.7,428.8 738.7,437.3 743.7,445.8 748.7,454.3 753.7,462.9 758.7,471.4 763.7,479.9 768.7,488.1 773.7,496.2 778.7,503.9 783.7,511.3 788.7,518.3 793.7,524.8 798.7,531.0 803.7,536.9 808.7,542.6 813.7,548.2 818.7,553.7 823.7,559.2 828.7,564.7 833.7,570.2 838.7,575.6 843.7,581.0 848.7,586.4 853.7,591.6 858.6,596.8 863.6,601.7 868.6,606.6 873.6,611.1 878.6,615.5 883.6,619.6 888.6,623.4 893.6,627.1 898.6,630.6 903.6,634.0 908.6,637.3 913.6,640.6 918.6,643.8 923.6,647.2 928.6,650.6 933.6,654.1 938.6,657.8 943.6,661.6 948.6,665.7 953.6,669.9 958.6,674.3 963.6,678.8 968.6,683.4 973.6,688.1 978.5,692.9 983.5,697.8 988.5,702.8 993.5,707.8 998.5,712.8 1003.5,717.8 1008.5,722.8 1013.5,727.8 1018.5,732.8 1023.5,737.7 1028.5,742.6 1033.5,747.3 1038.5,752.0 1043.5,756.6 1048.5,761.0 1053.5,765.3 1058.5,769.4 1063.5,773.4 1068.5,777.2 1073.5,780.8 1078.5,784.3 1083.5,787.6 1088.5,790.9 1093.5,794.0 1098.5,796.9 1103.4,799.8 1108.4,802.5 1113.4,805.2 1118.4,807.8 1123.4,810.2 1128.4,812.6 1133.4,814.9 1138.4,817.2 1143.4,819.4 1148.4,821.5 1153.4,823.6 1158.4,825.6 1163.4,827.6 1168.4,829.5 1173.4,831.4 1178.4,833.3 1183.4,835.1 1188.4,836.9 1193.4,838.6 1198.4,840.3 1203.4,841.9 1208.4,843.5 1213.4,845.1 1218.4,846.7 1223.3,848.2 1228.3,849.7 1233.3,851.1 1238.3,852.6 1243.3,854.0 1248.3,855.3 1253.3,856.7 1258.3,858.0 1263.3,859.3 1268.3,860.6 1273.3,861.9 1278.3,863.1 1283.3,864.3 1288.3,865.6 1293.3,866.7 1298.3,867.9 1303.3,869.1 1308.3,870.2 1313.3,871.3 1318.3,872.4 1323.3,873.5 1328.3,874.6 1333.3,875.6 1338.3,876.6 1343.3,877.7 1348.2,878.7 1353.2,879.7 1358.2,880.6 1363.2,881.6 1368.2,882.6 1373.2,883.5 1378.2,884.4 1383.2,885.4 1388.2,886.3 1393.2,887.2 1398.2,888.1 1403.2,888.9 1408.2,889.8 1413.2,890.7 1418.2,891.5 1423.2,892.4 1428.2,893.2 1433.2,894.1 1438.2,894.9 1443.2,895.7 1448.2,896.5 1453.2,897.4 1458.2,898.2 1463.2,899.0 1468.2,899.8 1473.1,900.6 1478.1,901.4 1483.1,902.2 1488.1,903.0 1493.1,903.8 1498.1,904.6 1503.1,905.4 1508.1,906.2 1513.1,907.0 1518.1,907.8 1523.1,908.6 1528.1,909.4 1533.1,910.2 1538.1,911.0 1543.1,911.8 1548.1,912.6 1553.1,913.5 1558.1,914.3 1563.1,915.1 1568.1,916.0 1573.1,916.8 1578.1,917.7 1583.1,918.5 1588.1,919.4 1593.0,920.3 1598.0,921.2 1603.0,922.1 1608.0,923.0 1613.0,923.9 1618.0,924.8 1623.0,925.7 1628.0,926.7 1633.0,927.6 1638.0,928.6 1643.0,929.6 1648.0,930.6 1653.0,931.6" stroke="#fb3b3c" stroke-width="8.8"/>
<path class="c" d="M424.0,356.0 429.0,358.6 434.0,360.5 439.0,361.7 444.0,362.3 449.0,362.5 454.0,362.1 459.0,361.3 464.0,360.1 469.0,358.6 474.0,356.9 479.0,354.9 484.0,352.8 488.9,350.6 493.9,348.4 498.9,346.2 503.9,344.0 508.9,342.0 513.9,340.1 518.9,338.3 523.9,336.7 528.9,335.2 533.9,334.0 538.9,332.9 543.9,332.1 548.9,331.6 553.9,331.3 558.9,331.2 563.9,331.5 568.9,332.1 573.9,333.0 578.9,334.3 583.9,335.9 588.9,337.7 593.9,339.8 598.9,342.1 603.9,344.6 608.8,347.3 613.8,350.1 618.8,353.0 623.8,356.1 628.8,359.2 633.8,362.6 638.8,366.1 643.8,369.8 648.8,373.7 653.8,377.8 658.8,382.2 663.8,386.9 668.8,391.8 673.8,397.0 678.8,402.4 683.8,408.1 688.8,414.1 693.8,420.2 698.8,426.6 703.8,433.2 708.8,440.0 713.8,446.8 718.8,453.7 723.8,460.5 728.8,467.2 733.7,473.7 738.7,480.1 743.7,486.3 748.7,492.4 753.7,498.3 758.7,504.0 763.7,509.6 768.7,515.1 773.7,520.4 778.7,525.6 783.7,530.7 788.7,535.6 793.7,540.4 798.7,545.1 803.7,549.6 808.7,554.1 813.7,558.4 818.7,562.6 823.7,566.8 828.7,570.8 833.7,574.8 838.7,578.6 843.7,582.4 848.7,586.1 853.7,589.7 858.6,593.3 863.6,596.8 868.6,600.3 873.6,603.7 878.6,607.0 883.6,610.3 888.6,613.6 893.6,616.9 898.6,620.2 903.6,623.5 908.6,626.8 913.6,630.2 918.6,633.6 923.6,637.1 928.6,640.6 933.6,644.3 938.6,648.0 943.6,651.8 948.6,655.8 953.6,659.9 958.6,664.2 963.6,668.6 968.6,673.2 973.6,678.0 978.5,682.9 983.5,687.9 988.5,693.1 993.5,698.4 998.5,703.7 1003.5,709.1 1008.5,714.4 1013.5,719.8 1018.5,725.1 1023.5,730.4 1028.5,735.5 1033.5,740.6 1038.5,745.6 1043.5,750.4 1048.5,755.1 1053.5,759.8 1058.5,764.3 1063.5,768.6 1068.5,772.9 1073.5,777.0 1078.5,781.0 1083.5,784.8 1088.5,788.6 1093.5,792.1 1098.5,795.6 1103.4,798.8 1108.4,802.0 1113.4,805.0 1118.4,807.8 1123.4,810.5 1128.4,813.0 1133.4,815.4 1138.4,817.8 1143.4,820.0 1148.4,822.1 1153.4,824.2 1158.4,826.2 1163.4,828.2 1168.4,830.1 1173.4,832.1 1178.4,833.9 1183.4,835.8 1188.4,837.6 1193.4,839.4 1198.4,841.1 1203.4,842.8 1208.4,844.5 1213.4,846.1 1218.4,847.8 1223.3,849.4 1228.3,850.9 1233.3,852.5 1238.3,854.0 1243.3,855.4 1248.3,856.9 1253.3,858.3 1258.3,859.7 1263.3,861.1 1268.3,862.4 1273.3,863.8 1278.3,865.1 1283.3,866.3 1288.3,867.6 1293.3,868.8 1298.3,870.0 1303.3,871.2 1308.3,872.4 1313.3,873.5 1318.3,874.6 1323.3,875.7 1328.3,876.8 1333.3,877.9 1338.3,878.9 1343.3,879.9 1348.2,880.9 1353.2,881.9 1358.2,882.9 1363.2,883.9 1368.2,884.8 1373.2,885.7 1378.2,886.7 1383.2,887.6 1388.2,888.4 1393.2,889.3 1398.2,890.2 1403.2,891.0 1408.2,891.9 1413.2,892.7 1418.2,893.5 1423.2,894.3 1428.2,895.1 1433.2,895.9 1438.2,896.7 1443.2,897.5 1448.2,898.2 1453.2,899.0 1458.2,899.7 1463.2,900.5 1468.2,901.2 1473.1,902.0 1478.1,902.7 1483.1,903.4 1488.1,904.1 1493.1,904.9 1498.1,905.6 1503.1,906.3 1508.1,907.0 1513.1,907.7 1518.1,908.4 1523.1,909.1 1528.1,909.8 1533.1,910.5 1538.1,911.3 1543.1,912.0 1548.1,912.7 1553.1,913.4 1558.1,914.1 1563.1,914.9 1568.1,915.6 1573.1,916.3 1578.1,917.1 1583.1,917.8 1588.1,918.6 1593.0,919.3 1598.0,920.1 1603.0,920.9 1608.0,921.6 1613.0,922.4 1618.0,923.2 1623.0,924.0 1628.0,924.9 1633.0,925.7 1638.0,926.5 1643.0,927.4 1648.0,928.3 1653.0,929.1" stroke="#0068e2" stroke-width="8.8"/>
<path class="c" d="M424.0,257.4 429.0,260.3 434.0,262.2 439.0,263.3 444.0,263.6 449.0,263.2 454.0,262.2 459.0,260.6 464.0,258.6 469.0,256.1 474.0,253.3 479.0,250.3 484.0,247.1 488.9,243.8 493.9,240.4 498.9,237.1 503.9,233.9 508.9,230.9 513.9,228.1 518.9,225.5 523.9,223.1 528.9,221.0 533.9,219.1 538.9,217.5 543.9,216.2 548.9,215.3 553.9,214.7 558.9,214.5 563.9,214.6 568.9,215.2 573.9,216.3 578.9,217.8 583.9,219.7 588.9,222.1 593.9,225.0 598.9,228.2 603.9,231.7 608.8,235.6 613.8,239.8 618.8,244.2 623.8,248.9 628.8,253.7 633.8,258.8 638.8,263.9 643.8,269.4 648.8,275.0 653.8,281.0 658.8,287.2 663.8,293.8 668.8,300.7 673.8,307.9 678.8,315.4 683.8,323.0 688.8,330.8 693.8,338.8 698.8,346.9 703.8,355.0 708.8,363.1 713.8,371.3 718.8,379.4 723.8,387.5 728.8,395.5 733.7,403.3 738.7,411.1 743.7,418.7 748.7,426.1 753.7,433.4 758.7,440.5 763.7,447.4 768.7,454.0 773.7,460.5 778.7,466.8 783.7,472.8 788.7,478.7 793.7,484.3 798.7,489.8 803.7,495.1 808.7,500.2 813.7,505.2 818.7,510.0 823.7,514.7 828.7,519.3 833.7,523.8 838.7,528.2 843.7,532.5 848.7,536.7 853.7,540.9 858.6,545.0 863.6,549.0 868.6,553.1 873.6,557.1 878.6,561.0 883.6,565.0 888.6,569.0 893.6,573.0 898.6,577.1 903.6,581.1 908.6,585.3 913.6,589.4 918.6,593.7 923.6,598.0 928.6,602.4 933.6,606.8 938.6,611.4 943.6,616.0 948.6,620.6 953.6,625.4 958.6,630.3 963.6,635.2 968.6,640.3 973.6,645.4 978.5,650.7 983.5,656.0 988.5,661.5 993.5,667.0 998.5,672.7 1003.5,678.5 1008.5,684.4 1013.5,690.3 1018.5,696.3 1023.5,702.2 1028.5,708.1 1033.5,713.9 1038.5,719.5 1043.5,725.1 1048.5,730.5 1053.5,735.6 1058.5,740.6 1063.5,745.3 1068.5,749.7 1073.5,753.9 1078.5,757.9 1083.5,761.7 1088.5,765.3 1093.5,768.7 1098.5,772.0 1103.4,775.0 1108.4,778.0 1113.4,780.8 1118.4,783.4 1123.4,786.0 1128.4,788.4 1133.4,790.7 1138.4,793.0 1143.4,795.2 1148.4,797.3 1153.4,799.4 1158.4,801.4 1163.4,803.4 1168.4,805.3 1173.4,807.2 1178.4,809.0 1183.4,810.8 1188.4,812.5 1193.4,814.2 1198.4,815.8 1203.4,817.4 1208.4,819.0 1213.4,820.5 1218.4,822.0 1223.3,823.5 1228.3,824.9 1233.3,826.3 1238.3,827.7 1243.3,829.0 1248.3,830.4 1253.3,831.7 1258.3,833.0 1263.3,834.2 1268.3,835.5 1273.3,836.7 1278.3,837.9 1283.3,839.1 1288.3,840.3 1293.3,841.4 1298.3,842.6 1303.3,843.7 1308.3,844.8 1313.3,845.9 1318.3,846.9 1323.3,848.0 1328.3,849.0 1333.3,850.0 1338.3,851.1 1343.3,852.0 1348.2,853.0 1353.2,854.0 1358.2,854.9 1363.2,855.9 1368.2,856.8 1373.2,857.7 1378.2,858.6 1383.2,859.5 1388.2,860.3 1393.2,861.2 1398.2,862.1 1403.2,862.9 1408.2,863.7 1413.2,864.5 1418.2,865.4 1423.2,866.2 1428.2,866.9 1433.2,867.7 1438.2,868.5 1443.2,869.3 1448.2,870.0 1453.2,870.8 1458.2,871.5 1463.2,872.3 1468.2,873.0 1473.1,873.7 1478.1,874.4 1483.1,875.1 1488.1,875.9 1493.1,876.6 1498.1,877.3 1503.1,878.0 1508.1,878.7 1513.1,879.3 1518.1,880.0 1523.1,880.7 1528.1,881.4 1533.1,882.1 1538.1,882.7 1543.1,883.4 1548.1,884.1 1553.1,884.8 1558.1,885.4 1563.1,886.1 1568.1,886.8 1573.1,887.5 1578.1,888.1 1583.1,888.8 1588.1,889.5 1593.0,890.2 1598.0,890.9 1603.0,891.6 1608.0,892.2 1613.0,892.9 1618.0,893.6 1623.0,894.3 1628.0,895.0 1633.0,895.7 1638.0,896.5 1643.0,897.2 1648.0,897.9 1653.0,898.6" stroke="#4f4f4f" stroke-width="8.8"/>
</g>
<path class="k" d="M405.5,851.1H425" stroke-width="3"/>
<text class="b2" x="391" y="860.6" font-size="38.5" text-anchor="end" letter-spacing="0.8">0.2</text>
<path class="k" d="M405.5,579.2H425" stroke-width="3"/>
<text class="b2" x="391" y="588.7" font-size="38.5" text-anchor="end" letter-spacing="0.8">0.4</text>
<path class="k" d="M405.5,307.3H425" stroke-width="3"/>
<text class="b2" x="391" y="316.8" font-size="38.5" text-anchor="end" letter-spacing="0.8">0.6</text>
<path class="k" d="M415,986.6H425" stroke-width="3"/>
<path class="k" d="M415,715.2H425" stroke-width="3"/>
<path class="k" d="M415,443.3H425" stroke-width="3"/>
<path class="k" d="M415,173.4H425" stroke-width="3"/>
<path class="k" d="M588.4,1105V1124.5" stroke-width="3"/>
<text x="588.4" y="1169.6" font-size="41.5" text-anchor="middle" fill="#222">400</text>
<path class="k" d="M853.2,1105V1124.5" stroke-width="3"/>
<text x="853.2" y="1169.6" font-size="41.5" text-anchor="middle" fill="#222">500</text>
<path class="k" d="M1118.1,1105V1124.5" stroke-width="3"/>
<text x="1118.1" y="1169.6" font-size="41.5" text-anchor="middle" fill="#222">600</text>
<path class="k" d="M1382.9,1105V1124.5" stroke-width="3"/>
<text x="1382.9" y="1169.6" font-size="41.5" text-anchor="middle" fill="#222">700</text>
<path class="k" d="M1647.8,1105V1124.5" stroke-width="3"/>
<text x="1647.8" y="1169.6" font-size="41.5" text-anchor="middle" fill="#222">800</text>
<path class="k" d="M456.0,1105V1113.5" stroke-width="3"/>
<path class="k" d="M720.8,1105V1113.5" stroke-width="3"/>
<path class="k" d="M985.7,1105V1113.5" stroke-width="3"/>
<path class="k" d="M1250.5,1105V1113.5" stroke-width="3"/>
<path class="k" d="M1515.4,1105V1113.5" stroke-width="3"/>
<text class="b" x="830" y="1248.6" font-size="47.5" letter-spacing="2.3">Wavelength (nm)</text>
<text class="b" transform="translate(311.6,817) rotate(-90)" font-size="51.5" letter-spacing="0">Absorbance (a.u)</text>
<text class="b" x="446.5" y="183.5" font-size="50.5" letter-spacing="0.1">388 – 395 nm</text>
<text class="b" transform="translate(917.5,183.5) scale(0.87,1)" font-size="64">a</text>
<rect x="1325.2" y="38" width="325.8" height="772" fill="#fff" stroke="#000" stroke-width="2.8"/>
<path d="M1327,73.0H1449.5" stroke="#4f4f4f" stroke-width="8.4" fill="none"/>
<text class="b" x="1455.5" y="89.3" font-size="50">H<tspan font-size="35.5" dy="14" dx="3" letter-spacing="0">pyran</tspan></text>
<path d="M1327,149.9H1449.5" stroke="#fb3b3c" stroke-width="8.4" fill="none"/>
<text class="b" x="1455.5" y="166.2" font-size="50">H<tspan font-size="35.5" dy="14" dx="3" letter-spacing="0">querc</tspan></text>
<path d="M1327,226.9H1449.5" stroke="#0068e2" stroke-width="8.4" fill="none"/>
<text class="b" x="1455.5" y="243.2" font-size="50">H<tspan font-size="35.5" dy="14" dx="3" letter-spacing="0">phen</tspan></text>
<path d="M1327,303.9H1449.5" stroke="#00ab66" stroke-width="8.4" fill="none"/>
<text class="b" x="1455.5" y="320.2" font-size="50">H<tspan font-size="35.5" dy="14" dx="3" letter-spacing="0">tere</tspan></text>
<path d="M1327,380.8H1449.5" stroke="#c078e2" stroke-width="8.4" fill="none"/>
<text class="b" x="1455.5" y="397.1" font-size="50">H<tspan font-size="35.5" dy="14" dx="3" letter-spacing="0">coum</tspan></text>
<path d="M1327,457.8H1449.5" stroke="#db9a00" stroke-width="8.4" fill="none"/>
<text class="b" x="1455.5" y="474.1" font-size="50">H<tspan font-size="35.5" dy="14" dx="3" letter-spacing="0">3,4DHBA</tspan></text>
<path d="M1327,534.7H1449.5" stroke="#00c9c9" stroke-width="8.4" fill="none"/>
<text class="b" x="1455.5" y="551.0" font-size="50">H<tspan font-size="35.5" dy="14" dx="3" letter-spacing="0">rhod</tspan></text>
<path d="M1327,611.6H1449.5" stroke="#8c4c4c" stroke-width="8.4" fill="none"/>
<text class="b" x="1455.5" y="627.9" font-size="50">H<tspan font-size="35.5" dy="14" dx="3" letter-spacing="0">caf</tspan></text>
<path d="M1327,688.6H1449.5" stroke="#ff6400" stroke-width="8.4" fill="none"/>
<text class="b" x="1455.5" y="704.9" font-size="50">H<tspan font-size="35.5" dy="14" dx="3" letter-spacing="0">mel</tspan></text>
<path d="M1327,765.6H1449.5" stroke="#32b800" stroke-width="8.4" fill="none"/>
<text class="b" x="1455.5" y="781.9" font-size="50">H<tspan font-size="35.5" dy="14" dx="3" letter-spacing="0">water</tspan></text>
</g>
<g id="panel-b">
<g clip-path="url(#cb)">
<path class="c" d="M100.0,1994.6 106.0,1993.8 112.0,1992.9 117.9,1992.1 123.9,1991.3 129.9,1990.5 135.9,1989.7 141.9,1989.0 147.9,1988.3 153.8,1987.6 159.8,1986.9 165.8,1986.2 171.8,1985.5 177.8,1984.8 183.8,1984.2 189.7,1983.6 195.7,1982.9 201.7,1982.3 207.7,1981.7 213.7,1981.1 219.7,1980.5 225.6,1979.9 231.6,1979.3 237.6,1978.7 243.6,1978.1 249.6,1977.5 255.6,1976.9 261.5,1976.3 267.5,1975.7 273.5,1975.1 279.5,1974.5 285.5,1973.9 291.5,1973.3 297.4,1972.6 303.4,1972.0 309.4,1971.3 315.4,1970.6 321.4,1970.0 327.4,1969.3 333.3,1968.6 339.3,1967.8 345.3,1967.1 351.3,1966.3 357.3,1965.5 363.3,1964.7 369.2,1963.9 375.2,1963.1 381.2,1962.2 387.2,1961.3 393.2,1960.4 399.2,1959.4 405.1,1958.4 411.1,1957.4 417.1,1956.4 423.1,1955.3 429.1,1954.2 435.1,1953.1 441.0,1951.9 447.0,1950.7 453.0,1949.5 459.0,1948.2 465.0,1946.9 471.0,1945.6 476.9,1944.2 482.9,1942.7 488.9,1941.3 494.9,1939.7 500.9,1938.2 506.9,1936.6 512.8,1934.9 518.8,1933.2 524.8,1931.5 530.8,1929.7 536.8,1927.8 542.8,1925.9 548.7,1923.9 554.7,1921.9 560.7,1919.9 566.7,1917.7 572.7,1915.6 578.6,1913.3 584.6,1911.0 590.6,1908.7 596.6,1906.2 602.6,1903.8 608.6,1901.2 614.5,1898.6 620.5,1895.9 626.5,1893.2 632.5,1890.4 638.5,1887.5 644.5,1884.5 650.4,1881.5 656.4,1878.4 662.4,1875.3 668.4,1872.0 674.4,1868.7 680.4,1865.4 686.3,1861.9 692.3,1858.5 698.3,1854.9 704.3,1851.4 710.3,1847.7 716.3,1844.1 722.2,1840.4 728.2,1836.7 734.2,1833.0 740.2,1829.2 746.2,1825.5 752.2,1821.7 758.1,1817.9 764.1,1814.2 770.1,1810.4 776.1,1806.7 782.1,1802.9 788.1,1799.2 794.0,1795.5 800.0,1791.8 806.0,1788.2 812.0,1784.6 818.0,1781.0 824.0,1777.5 829.9,1774.1 835.9,1770.7 841.9,1767.3 847.9,1764.0 853.9,1760.8 859.9,1757.6 865.8,1754.5 871.8,1751.4 877.8,1748.3 883.8,1745.3 889.8,1742.4 895.8,1739.4 901.7,1736.5 907.7,1733.6 913.7,1730.7 919.7,1727.9 925.7,1725.0 931.7,1722.2 937.6,1719.4 943.6,1716.5 949.6,1713.7 955.6,1710.9 961.6,1708.1 967.6,1705.2 973.5,1702.4 979.5,1699.5 985.5,1696.6" stroke="#ff00ff" stroke-width="8"/>
<path class="c" d="M100.0,1982.6 108.0,1981.3 116.0,1980.0 124.0,1978.8 132.1,1977.6 140.1,1976.4 148.1,1975.2 156.1,1974.0 164.1,1972.9 172.1,1971.8 180.1,1970.6 188.1,1969.5 196.2,1968.4 204.2,1967.3 212.2,1966.1 220.2,1965.0 228.2,1963.9 236.2,1962.7 244.2,1961.6 252.3,1960.4 260.3,1959.2 268.3,1958.0 276.3,1956.8 284.3,1955.6 292.3,1954.3 300.3,1953.0 308.4,1951.6 316.4,1950.2 324.4,1948.8 332.4,1947.4 340.4,1945.9 348.4,1944.3 356.4,1942.7 364.4,1941.1 372.5,1939.4 380.5,1937.7 388.5,1935.9 396.5,1934.0 404.5,1932.1 412.5,1930.1 420.5,1928.0 428.6,1925.9 436.6,1923.6 444.6,1921.4 452.6,1919.0 460.6,1916.5 468.6,1914.0 476.6,1911.4 484.7,1908.7 492.7,1905.9 500.7,1903.0 508.7,1900.0 516.7,1896.9 524.7,1893.6 532.7,1890.3 540.7,1886.8 548.8,1883.2 556.8,1879.4 564.8,1875.5 572.8,1871.4 580.8,1867.1 588.8,1862.6 596.8,1858.0 604.9,1853.2 612.9,1848.1 620.9,1842.9 628.9,1837.4 636.9,1831.7 644.9,1825.8 652.9,1819.6 661.0,1813.1 669.0,1806.5 677.0,1799.5 685.0,1792.3 693.0,1784.9 701.0,1777.3 709.0,1769.5 717.0,1761.6 725.1,1753.6 733.1,1745.5 741.1,1737.4 749.1,1729.4 757.1,1721.4 765.1,1713.5 773.1,1705.7 781.2,1698.0 789.2,1690.4 797.2,1682.9 805.2,1675.5 813.2,1668.2 821.2,1660.9 829.2,1653.7 837.2,1646.5 845.3,1639.3 853.3,1632.2 861.3,1625.1 869.3,1618.1 877.3,1611.1 885.3,1604.1 893.3,1597.2 901.4,1590.3 909.4,1583.5 917.4,1576.8 925.4,1570.1 933.4,1563.5 941.4,1556.9 949.4,1550.4 957.5,1544.1 965.5,1537.7 973.5,1531.5 981.5,1525.3 985.5,1522.2" stroke="#00ff00" stroke-width="8"/>
<path class="c" d="M100.0,1963.4 108.0,1962.0 116.0,1960.7 124.0,1959.3 132.1,1957.9 140.1,1956.5 148.1,1955.1 156.1,1953.7 164.1,1952.3 172.1,1950.8 180.1,1949.3 188.1,1947.9 196.2,1946.3 204.2,1944.8 212.2,1943.3 220.2,1941.7 228.2,1940.1 236.2,1938.4 244.2,1936.7 252.3,1935.0 260.3,1933.3 268.3,1931.5 276.3,1929.7 284.3,1927.8 292.3,1925.9 300.3,1924.0 308.4,1922.0 316.4,1920.0 324.4,1917.9 332.4,1915.8 340.4,1913.6 348.4,1911.4 356.4,1909.1 364.4,1906.7 372.5,1904.3 380.5,1901.9 388.5,1899.4 396.5,1896.8 404.5,1894.1 412.5,1891.4 420.5,1888.7 428.6,1885.8 436.6,1882.9 444.6,1879.9 452.6,1876.8 460.6,1873.7 468.6,1870.5 476.6,1867.2 484.7,1863.8 492.7,1860.3 500.7,1856.8 508.7,1853.1 516.7,1849.4 524.7,1845.5 532.7,1841.5 540.7,1837.4 548.8,1833.2 556.8,1828.8 564.8,1824.2 572.8,1819.5 580.8,1814.5 588.8,1809.3 596.8,1803.7 604.9,1797.8 612.9,1791.6 620.9,1785.0 628.9,1777.9 636.9,1770.6 644.9,1762.8 652.9,1754.8 661.0,1746.5 669.0,1737.9 677.0,1729.1 685.0,1720.1 693.0,1711.0 701.0,1701.8 709.0,1692.4 717.0,1682.9 725.1,1673.3 733.1,1663.7 741.1,1654.0 749.1,1644.3 757.1,1634.5 765.1,1624.7 773.1,1614.9 781.2,1605.1 789.2,1595.2 797.2,1585.4 805.2,1575.7 813.2,1566.0 821.2,1556.3 829.2,1546.7 837.2,1537.1 845.3,1527.7 853.3,1518.3 861.3,1509.0 869.3,1499.8 877.3,1490.6 885.3,1481.6 893.3,1472.5 901.4,1463.6 909.4,1454.7 917.4,1445.9 925.4,1437.1 933.4,1428.4 941.4,1419.7 949.4,1411.0 957.5,1402.4 965.5,1393.7 973.5,1385.1 981.5,1376.6 985.5,1372.3" stroke="#ff0000" stroke-width="8"/>
<path class="c" d="M100.0,1967.9 108.0,1966.2 116.0,1964.5 124.0,1962.8 132.1,1961.1 140.1,1959.4 148.1,1957.8 156.1,1956.2 164.1,1954.7 172.1,1953.1 180.1,1951.5 188.1,1950.0 196.2,1948.5 204.2,1946.9 212.2,1945.4 220.2,1943.9 228.2,1942.3 236.2,1940.8 244.2,1939.2 252.3,1937.6 260.3,1936.0 268.3,1934.4 276.3,1932.7 284.3,1931.0 292.3,1929.3 300.3,1927.5 308.4,1925.7 316.4,1923.8 324.4,1921.9 332.4,1919.9 340.4,1917.9 348.4,1915.8 356.4,1913.7 364.4,1911.4 372.5,1909.2 380.5,1906.8 388.5,1904.3 396.5,1901.8 404.5,1899.2 412.5,1896.5 420.5,1893.7 428.6,1890.8 436.6,1887.8 444.6,1884.7 452.6,1881.5 460.6,1878.2 468.6,1874.8 476.6,1871.3 484.7,1867.6 492.7,1863.8 500.7,1859.9 508.7,1855.8 516.7,1851.5 524.7,1847.1 532.7,1842.5 540.7,1837.7 548.8,1832.7 556.8,1827.5 564.8,1822.0 572.8,1816.2 580.8,1810.1 588.8,1803.8 596.8,1797.1 604.9,1790.2 612.9,1782.9 620.9,1775.4 628.9,1767.6 636.9,1759.4 644.9,1751.1 652.9,1742.5 661.0,1733.7 669.0,1724.7 677.0,1715.5 685.0,1706.2 693.0,1696.7 701.0,1687.2 709.0,1677.6 717.0,1667.9 725.1,1658.1 733.1,1648.3 741.1,1638.4 749.1,1628.5 757.1,1618.6 765.1,1608.7 773.1,1598.9 781.2,1589.0 789.2,1579.1 797.2,1569.3 805.2,1559.5 813.2,1549.8 821.2,1540.2 829.2,1530.7 837.2,1521.2 845.3,1511.8 853.3,1502.6 861.3,1493.4 869.3,1484.3 877.3,1475.3 885.3,1466.4 893.3,1457.5 901.4,1448.8 909.4,1440.1 917.4,1431.4 925.4,1422.8 933.4,1414.3 941.4,1405.8 949.4,1397.3 957.5,1388.9 965.5,1380.4 973.5,1372.0 981.5,1363.6 985.5,1359.4" stroke="#0000ff" stroke-width="9"/>
<path class="c" d="M100.0,1949.0 108.0,1947.6 116.0,1946.2 124.0,1944.7 132.0,1943.2 140.0,1941.7 148.0,1940.2 156.0,1938.7 164.0,1937.1 172.0,1935.5 180.0,1933.9 187.9,1932.2 195.9,1930.6 203.9,1928.8 211.9,1927.1 219.9,1925.3 227.9,1923.5 235.9,1921.6 243.9,1919.8 251.9,1917.8 259.9,1915.8 267.9,1913.8 275.9,1911.8 283.9,1909.6 291.9,1907.5 299.9,1905.3 307.9,1903.0 315.9,1900.7 323.9,1898.3 331.9,1895.9 339.9,1893.4 347.8,1890.9 355.8,1888.3 363.8,1885.6 371.8,1882.9 379.8,1880.1 387.8,1877.3 395.8,1874.4 403.8,1871.4 411.8,1868.3 419.8,1865.2 427.8,1862.0 435.8,1858.7 443.8,1855.4 451.8,1851.9 459.8,1848.3 467.8,1844.6 475.8,1840.8 483.8,1836.8 491.8,1832.7 499.8,1828.4 507.8,1823.9 515.7,1819.2 523.7,1814.3 531.7,1809.1 539.7,1803.7 547.7,1798.0 555.7,1792.0 563.7,1785.7 571.7,1779.2 579.7,1772.2 587.7,1765.0 595.7,1757.4 603.7,1749.4 611.7,1741.1 619.7,1732.5 627.7,1723.5 635.7,1714.3 643.7,1704.7 651.7,1694.8 659.7,1684.7 667.7,1674.3 675.6,1663.7 683.6,1652.9 691.6,1641.9 699.6,1630.8 707.6,1619.4 715.6,1607.9 723.6,1596.3 731.6,1584.6 739.6,1572.8 747.6,1560.9 755.6,1548.9 763.6,1537.0 771.6,1525.0 779.6,1513.1 787.6,1501.2 795.6,1489.5 803.6,1477.9 811.6,1466.4 819.6,1455.0 827.6,1443.8 835.6,1432.8 843.5,1421.9 851.5,1411.1 859.5,1400.4 867.5,1389.7 875.5,1379.0 883.5,1368.4 891.5,1357.7 899.5,1346.9 907.5,1336.1 915.5,1325.2 919.5,1319.8" stroke="#000000" stroke-width="9"/>
</g>
<g clip-path="url(#cb2)">
<path class="c" d="M455.0,2003.0L461.3,1993.5L467.7,1983.9L474.0,1974.4M494.0,1944.3L500.3,1934.8L506.7,1925.3L513.0,1915.8M533.8,1884.5L540.1,1875.0L546.5,1865.4L552.8,1855.9M573.2,1825.2L579.5,1815.7L585.9,1806.2L592.2,1796.7M609.0,1771.4L615.3,1759.2L621.7,1747.2L628.0,1735.7M648.7,1701.5L655.0,1691.7L661.4,1682.5L667.7,1674.3M687.4,1647.8L693.7,1639.0L700.1,1630.2L706.4,1621.2M726.0,1592.8L732.3,1583.5L738.7,1574.2L745.0,1564.8M764.7,1535.3L771.0,1525.8L777.4,1516.4L783.7,1507.0M803.3,1478.2L809.6,1469.1L816.0,1460.1L822.3,1451.2" stroke="#ff0000" stroke-width="3"/>
<path class="c" d="M481.3,1951.8L489.0,1942.6L496.6,1933.3L504.3,1924.1M526.0,1897.9L533.7,1888.6L541.3,1879.4L549.0,1870.1M570.6,1844.1L578.3,1834.8L585.9,1825.6L593.6,1816.3M612.5,1793.5L620.2,1784.2L627.8,1775.0L635.5,1765.7M658.4,1737.1L666.1,1727.8L673.7,1718.5L681.4,1709.3M701.9,1684.6L709.6,1675.4L717.2,1666.1L724.9,1656.8M750.2,1625.7L757.9,1616.2L765.5,1606.7L773.2,1597.3M791.3,1575.0L799.0,1565.6L806.6,1556.3L814.3,1547.0M837.2,1519.8L844.9,1510.8L852.5,1501.9L860.2,1493.1" stroke="#000000" stroke-width="4"/>
<path class="c" d="M444.5,1993.4L452.5,1984.5L460.5,1975.5L468.5,1966.6M491.8,1940.5L499.8,1931.5L507.8,1922.6L515.8,1913.6M536.4,1890.5L544.4,1881.6L552.4,1872.6L560.4,1863.6M583.5,1837.8L591.5,1828.8L599.5,1819.8L607.5,1810.9M627.0,1789.0L635.0,1780.1L643.0,1771.0L651.0,1761.8M675.3,1734.7L683.3,1725.7L691.3,1716.5L699.3,1707.3M721.2,1681.5L729.2,1671.9L737.2,1662.2L745.2,1652.5M767.1,1625.8L775.1,1616.0L783.1,1606.2L791.1,1596.4M813.0,1569.7L821.0,1560.1L829.0,1550.5L837.0,1540.9M856.5,1518.0L864.5,1508.8L872.5,1499.6L880.5,1490.5" stroke="#00ff00" stroke-width="4"/>
<path class="c" d="M422.0,2032.0L430.3,2024.4L438.7,2016.8L447.0,2009.2M473.4,1985.1L481.7,1977.5L490.1,1969.9L498.4,1962.3M525.0,1938.1L533.3,1930.5L541.7,1922.9L550.0,1915.3M576.2,1891.4L584.5,1883.8L592.9,1876.2L601.2,1868.3M629.4,1840.6L637.7,1833.6L646.1,1827.0L654.4,1820.4M680.0,1798.8L688.3,1791.2L696.7,1783.4L705.0,1775.4M733.3,1747.3L741.6,1738.9L750.0,1730.5L758.3,1722.3M784.0,1697.3L792.3,1689.5L800.7,1681.7L809.0,1674.0M837.2,1648.5L845.5,1641.1L853.9,1633.7L862.2,1626.3M888.0,1603.8L896.3,1596.6L904.7,1589.5L913.0,1582.5M939.9,1560.2L948.2,1553.4L956.6,1546.8L964.9,1540.2" stroke="#ff00ff" stroke-width="6"/>
<path class="c" d="M388.0,2036.0L398.3,2030.0L408.7,2024.1L419.0,2018.1M450.0,2000.3L460.3,1994.3L470.7,1988.4L481.0,1982.4M509.0,1966.3L519.3,1960.4L529.7,1954.4L540.0,1948.4M569.0,1931.7L579.3,1925.8L589.7,1919.8L600.0,1913.9M629.4,1894.8L639.7,1888.9L650.1,1883.2L660.4,1877.8M691.0,1860.7L701.3,1854.6L711.7,1848.4L722.0,1842.1M750.2,1824.4L760.5,1817.9L770.9,1811.4L781.2,1805.0" stroke="#808000" stroke-width="6.5"/>
<path class="c" d="M435.5,2007.1L444.5,1996.3" stroke="#000" stroke-width="4"/>
</g>
<path class="k" d="M100,1320V2033.3" stroke-width="3"/>
<path class="k" d="M88,2032H986.2" stroke-width="3"/>
<path class="k" d="M90,1322H985" stroke-width="3.5"/>
<path class="k" d="M985,1321V2033" stroke-width="2"/>
<path class="k" d="M94,1677.5H100" stroke-width="2.5"/>
<path class="k" d="M106,2032V2039" stroke-width="2.5"/>
<path class="k" d="M728,2032V2039" stroke-width="2.5"/>
<path class="k" d="M415.6,2032V2045" stroke-width="4.2"/>
<text x="51" y="1330.5" font-size="42" fill="#222">5</text>
<text x="51" y="2045" font-size="42" fill="#222">0</text>
<text x="385" y="2089" font-size="42" fill="#222">2.0</text>
<text class="b2" x="553" y="2090.5" font-size="43" letter-spacing="0.75">Energy (eV)</text>
<text class="b2" x="916.5" y="1997.8" font-size="46.5">b</text>
<rect x="106" y="1326.8" width="452.5" height="412" fill="#fff" stroke="#000" stroke-width="2"/>
<path d="M107,1360.0H220" stroke="#000000" stroke-width="9.5" fill="none"/>
<text class="b2" x="227" y="1373.0" font-size="49.5">H<tspan font-size="33" dy="13.5" dx="-1.5" letter-spacing="0">pyr</tspan></text>
<text class="b2" x="348.3" y="1373.0" font-size="49" letter-spacing="-0.8">2.01eV</text>
<path d="M107,1429.5H220" stroke="#ff0000" stroke-width="8" fill="none"/>
<text class="b2" x="227" y="1442.5" font-size="49.5">H<tspan font-size="33" dy="13.5" dx="-1.5" letter-spacing="0">qurc</tspan></text>
<text class="b2" x="354.4" y="1442.5" font-size="49" letter-spacing="-0.8">2.0</text>
<path d="M107,1499.0H220" stroke="#0000ff" stroke-width="8.5" fill="none"/>
<text class="b2" x="227" y="1512.0" font-size="49.5">H<tspan font-size="33" dy="13.5" dx="-1.5" letter-spacing="0">phen</tspan></text>
<text class="b2" x="363.5" y="1512.0" font-size="49" letter-spacing="-0.8">2.0</text>
<path d="M107,1568.5H220" stroke="#00ff00" stroke-width="8" fill="none"/>
<text class="b2" x="227" y="1581.5" font-size="49.5">H<tspan font-size="33" dy="13.5" dx="-1.5" letter-spacing="0">tere</tspan></text>
<text class="b2" x="345.2" y="1581.5" font-size="49" letter-spacing="-0.8">2.0</text>
<path d="M107,1638.0H220" stroke="#ff00ff" stroke-width="8" fill="none"/>
<text class="b2" x="227" y="1651.0" font-size="49.5">H<tspan font-size="33" dy="13.5" dx="-1.5" letter-spacing="0">coum</tspan></text>
<text class="b2" x="374.2" y="1651.0" font-size="49" letter-spacing="-0.8">1.98</text>
<g transform="translate(66.4,1822) rotate(-90) scale(0.89,1.08)"><text class="b3" font-size="46"><tspan x="0.0" y="0">(ahv)</tspan><tspan x="112.9" y="-15.5" font-size="32" class="n">2</tspan><tspan x="138.2" y="0">(e</tspan><tspan x="187.1" y="0">V</tspan><tspan x="231.5" y="0">c</tspan><tspan x="260.2" y="0">m</tspan><tspan x="301.1" y="-15.5" font-size="32" class="n">-</tspan><tspan x="315.2" y="-15.5" font-size="32" class="n">1</tspan><tspan x="330.9" y="0">)</tspan><tspan x="347.2" y="-15.5" font-size="32" class="n">2</tspan></text></g>
</g>
<g id="panel-c">
<g clip-path="url(#cc)">
<path class="c" d="M1168.4,2017.2 1176.4,2017.0 1184.4,2016.8 1192.4,2016.6 1200.4,2016.3 1208.4,2016.0 1216.4,2015.7 1224.4,2015.4 1232.4,2015.0 1240.4,2014.7 1248.4,2014.3 1256.4,2013.8 1264.4,2013.4 1272.4,2012.9 1280.4,2012.4 1288.4,2011.9 1296.4,2011.4 1304.4,2010.8 1312.4,2010.2 1320.4,2009.6 1328.4,2009.0 1336.4,2008.3 1344.4,2007.6 1352.4,2006.9 1360.4,2006.2 1368.4,2005.5 1376.4,2004.7 1384.4,2003.9 1392.4,2003.1 1400.4,2002.3 1408.4,2001.4 1416.4,2000.6 1424.4,1999.7 1432.4,1998.8 1440.4,1997.8 1448.4,1996.9 1456.4,1995.9 1464.4,1994.9 1472.4,1993.9 1480.4,1992.9 1488.4,1991.8 1496.4,1990.8 1504.4,1989.7 1512.4,1988.6 1520.4,1987.4 1528.4,1986.3 1536.4,1985.1 1544.4,1983.9 1552.4,1982.6 1560.4,1981.3 1568.4,1979.9 1576.4,1978.5 1584.4,1977.0 1592.4,1975.4 1600.4,1973.7 1608.5,1971.9 1616.5,1970.0 1624.5,1967.9 1632.5,1965.7 1640.5,1963.4 1648.5,1960.9 1656.5,1958.2 1664.5,1955.4 1672.5,1952.3 1680.5,1949.1 1688.5,1945.6 1696.5,1941.8 1704.5,1937.8 1712.5,1933.5 1720.5,1929.0 1728.5,1924.1 1736.5,1919.0 1744.5,1913.7 1752.5,1908.1 1760.5,1902.2 1768.5,1896.2 1776.5,1889.9 1784.5,1883.5 1792.5,1876.9 1800.5,1870.2 1808.5,1863.4 1816.5,1856.5 1824.5,1849.5 1832.5,1842.4 1840.5,1835.3 1848.5,1828.2 1856.5,1821.1 1864.5,1814.1 1872.5,1807.0 1880.5,1800.1 1888.5,1793.2 1896.5,1786.3 1904.5,1779.6 1912.5,1773.0 1920.5,1766.5 1928.5,1760.0 1936.5,1753.6 1944.5,1747.3 1952.5,1741.0 1960.5,1734.7 1968.5,1728.5 1976.5,1722.2 1984.5,1715.9 1992.5,1709.6 2000.5,1703.2 2008.5,1696.7 2016.5,1690.1 2024.5,1683.4 2032.5,1676.6 2040.5,1669.7 2048.5,1662.8 2048.5,1662.8" stroke="#ff6600" stroke-width="8.5"/>
<path class="c" d="M1168.4,2000.3 1176.4,1999.0 1184.4,1997.7 1192.4,1996.4 1200.4,1995.2 1208.4,1994.1 1216.4,1993.0 1224.4,1992.0 1232.4,1991.0 1240.4,1990.1 1248.4,1989.2 1256.4,1988.3 1264.4,1987.4 1272.4,1986.5 1280.4,1985.7 1288.4,1984.8 1296.4,1984.0 1304.4,1983.1 1312.4,1982.2 1320.4,1981.3 1328.4,1980.3 1336.4,1979.3 1344.4,1978.2 1352.4,1977.1 1360.4,1976.0 1368.4,1974.7 1376.4,1973.4 1384.4,1972.0 1392.4,1970.5 1400.4,1969.0 1408.4,1967.3 1416.4,1965.5 1424.4,1963.6 1432.4,1961.6 1440.4,1959.5 1448.4,1957.2 1456.4,1954.9 1464.4,1952.5 1472.4,1950.1 1480.4,1947.5 1488.4,1945.0 1496.4,1942.4 1504.4,1939.8 1512.4,1937.2 1520.4,1934.6 1528.4,1932.1 1536.4,1929.6 1544.4,1927.1 1552.4,1924.7 1560.4,1922.4 1568.4,1920.1 1576.4,1917.7 1584.4,1915.4 1592.4,1913.0 1600.4,1910.6 1608.5,1908.1 1616.5,1905.4 1624.5,1902.6 1632.5,1899.6 1640.5,1896.4 1648.5,1892.9 1656.5,1889.2 1664.5,1885.2 1672.5,1880.9 1680.5,1876.2 1688.5,1871.2 1696.5,1865.8 1704.5,1860.1 1712.5,1854.0 1720.5,1847.6 1728.5,1840.8 1736.5,1833.8 1744.5,1826.5 1752.5,1818.9 1760.5,1811.1 1768.5,1803.1 1776.5,1795.0 1784.5,1786.7 1792.5,1778.3 1800.5,1769.8 1808.5,1761.2 1816.5,1752.5 1824.5,1743.9 1832.5,1735.2 1840.5,1726.6 1848.5,1718.0 1856.5,1709.5 1864.5,1701.2 1872.5,1692.9 1880.5,1684.8 1888.5,1676.9 1896.5,1669.2 1904.5,1661.6 1912.5,1654.3 1920.5,1647.0 1928.5,1639.9 1936.5,1632.9 1944.5,1625.9 1952.5,1618.9 1960.5,1611.8 1968.5,1604.6 1976.5,1597.3 1984.5,1589.8 1992.5,1582.1 2000.5,1574.4 2008.5,1566.5 2016.5,1558.5 2024.5,1550.5 2032.5,1542.4 2040.5,1534.3 2048.5,1526.2 2048.5,1526.2" stroke="#8c8c00" stroke-width="8.5"/>
<path class="c" d="M1168.4,1990.7 1176.4,1989.8 1184.4,1988.8 1192.4,1987.8 1200.4,1986.8 1208.4,1985.8 1216.4,1984.8 1224.4,1983.8 1232.4,1982.7 1240.4,1981.6 1248.4,1980.5 1256.4,1979.3 1264.4,1978.1 1272.4,1976.9 1280.4,1975.7 1288.4,1974.4 1296.4,1973.1 1304.4,1971.8 1312.4,1970.4 1320.4,1969.0 1328.4,1967.5 1336.4,1966.1 1344.4,1964.5 1352.4,1963.0 1360.4,1961.4 1368.4,1959.7 1376.4,1958.1 1384.4,1956.3 1392.4,1954.6 1400.4,1952.8 1408.4,1950.9 1416.4,1949.0 1424.4,1947.0 1432.4,1945.0 1440.4,1943.0 1448.4,1940.9 1456.4,1938.7 1464.4,1936.5 1472.4,1934.3 1480.4,1931.9 1488.4,1929.6 1496.4,1927.1 1504.4,1924.6 1512.4,1922.1 1520.4,1919.5 1528.4,1916.8 1536.4,1914.1 1544.4,1911.3 1552.4,1908.4 1560.4,1905.4 1568.4,1902.4 1576.4,1899.2 1584.4,1896.0 1592.4,1892.6 1600.4,1889.0 1608.5,1885.3 1616.5,1881.5 1624.5,1877.5 1632.5,1873.2 1640.5,1868.8 1648.5,1864.1 1656.5,1859.2 1664.5,1854.1 1672.5,1848.7 1680.5,1843.0 1688.5,1837.0 1696.5,1830.7 1704.5,1824.1 1712.5,1817.2 1720.5,1809.9 1728.5,1802.3 1736.5,1794.3 1744.5,1786.0 1752.5,1777.2 1760.5,1768.1 1768.5,1758.6 1776.5,1748.9 1784.5,1738.9 1792.5,1728.6 1800.5,1718.2 1808.5,1707.8 1816.5,1697.3 1824.5,1686.9 1832.5,1676.6 1840.5,1666.4 1848.5,1656.5 1856.5,1646.8 1864.5,1637.4 1872.5,1628.2 1880.5,1619.3 1888.5,1610.5 1896.5,1602.0 1904.5,1593.6 1912.5,1585.4 1920.5,1577.3 1928.5,1569.2 1936.5,1561.2 1944.5,1553.2 1952.5,1545.1 1960.5,1536.9 1968.5,1528.5 1976.5,1520.0 1984.5,1511.2 1992.5,1502.2 2000.5,1493.0 2008.5,1483.6 2016.5,1474.0 2024.5,1464.4 2032.5,1454.7 2040.5,1445.0 2048.5,1435.4 2048.5,1435.4" stroke="#8c4c4c" stroke-width="8.5"/>
<path class="c" d="M1168.4,1982.1 1176.4,1980.6 1184.4,1979.1 1192.4,1977.5 1200.4,1976.0 1208.4,1974.5 1216.4,1973.0 1224.4,1971.4 1232.4,1969.9 1240.4,1968.4 1248.4,1966.8 1256.4,1965.2 1264.4,1963.6 1272.4,1962.0 1280.4,1960.4 1288.4,1958.8 1296.4,1957.1 1304.4,1955.4 1312.4,1953.7 1320.4,1951.9 1328.4,1950.2 1336.4,1948.3 1344.4,1946.5 1352.4,1944.6 1360.4,1942.6 1368.4,1940.6 1376.4,1938.6 1384.4,1936.5 1392.4,1934.3 1400.4,1932.1 1408.4,1929.8 1416.4,1927.5 1424.4,1925.1 1432.4,1922.6 1440.4,1920.1 1448.4,1917.5 1456.4,1914.8 1464.4,1912.1 1472.4,1909.3 1480.4,1906.3 1488.4,1903.4 1496.4,1900.3 1504.4,1897.1 1512.4,1893.9 1520.4,1890.5 1528.4,1887.1 1536.4,1883.5 1544.4,1879.9 1552.4,1876.1 1560.4,1872.3 1568.4,1868.3 1576.4,1864.2 1584.4,1859.9 1592.4,1855.5 1600.4,1851.0 1608.5,1846.3 1616.5,1841.5 1624.5,1836.5 1632.5,1831.3 1640.5,1825.9 1648.5,1820.3 1656.5,1814.5 1664.5,1808.5 1672.5,1802.3 1680.5,1795.8 1688.5,1789.1 1696.5,1782.0 1704.5,1774.7 1712.5,1766.9 1720.5,1758.8 1728.5,1750.3 1736.5,1741.4 1744.5,1732.1 1752.5,1722.4 1760.5,1712.3 1768.5,1701.9 1776.5,1691.3 1784.5,1680.4 1792.5,1669.4 1800.5,1658.3 1808.5,1647.2 1816.5,1636.1 1824.5,1625.1 1832.5,1614.2 1840.5,1603.4 1848.5,1592.7 1856.5,1582.2 1864.5,1571.8 1872.5,1561.6 1880.5,1551.5 1888.5,1541.5 1896.5,1531.7 1904.5,1522.0 1912.5,1512.3 1920.5,1502.8 1928.5,1493.3 1936.5,1483.9 1944.5,1474.5 1952.5,1465.2 1960.5,1455.8 1968.5,1446.4 1976.5,1437.0 1984.5,1427.5 1992.5,1418.0 2000.5,1408.3 2008.5,1398.5 2016.5,1388.6 2024.5,1378.6 2032.5,1368.4 2040.5,1358.1 2048.5,1347.7 2048.5,1347.7" stroke="#00c9c9" stroke-width="8.5"/>
<path class="c" d="M1168.4,1974.9 1176.4,1973.5 1184.4,1972.2 1192.4,1970.8 1200.4,1969.4 1208.4,1968.0 1216.4,1966.5 1224.4,1964.9 1232.4,1963.4 1240.4,1961.7 1248.4,1960.1 1256.4,1958.4 1264.4,1956.6 1272.4,1954.8 1280.4,1952.9 1288.4,1951.0 1296.4,1949.1 1304.4,1947.0 1312.4,1945.0 1320.4,1942.9 1328.4,1940.7 1336.4,1938.5 1344.4,1936.2 1352.4,1933.9 1360.4,1931.5 1368.4,1929.1 1376.4,1926.6 1384.4,1924.1 1392.4,1921.5 1400.4,1918.8 1408.4,1916.1 1416.4,1913.3 1424.4,1910.5 1432.4,1907.6 1440.4,1904.7 1448.4,1901.7 1456.4,1898.6 1464.4,1895.4 1472.4,1892.2 1480.4,1889.0 1488.4,1885.6 1496.4,1882.2 1504.4,1878.7 1512.4,1875.1 1520.4,1871.5 1528.4,1867.7 1536.4,1863.8 1544.4,1859.8 1552.5,1855.6 1560.5,1851.3 1568.5,1846.8 1576.5,1842.2 1584.5,1837.4 1592.5,1832.4 1600.5,1827.2 1608.5,1821.7 1616.5,1816.1 1624.5,1810.2 1632.5,1804.1 1640.5,1797.8 1648.5,1791.1 1656.5,1784.1 1664.5,1776.8 1672.5,1769.0 1680.5,1760.8 1688.5,1752.2 1696.5,1743.0 1704.5,1733.3 1712.5,1723.1 1720.5,1712.3 1728.5,1701.0 1736.5,1689.1 1744.5,1676.8 1752.5,1663.9 1760.5,1650.5 1768.5,1636.6 1776.5,1622.3 1784.5,1607.5 1792.5,1592.4 1800.5,1577.1 1808.5,1561.4 1816.5,1545.7 1824.5,1529.8 1832.5,1513.9 1840.5,1498.0 1848.5,1482.2 1856.5,1466.4 1864.5,1450.9 1872.5,1435.5 1880.5,1420.3 1888.5,1405.4 1896.5,1390.7 1904.5,1376.4 1912.5,1362.4 1920.5,1348.7 1928.5,1335.2 1936.5,1322.0 1936.5,1322.0" stroke="#db9a00" stroke-width="8.5"/>
</g>
<g clip-path="url(#cc2)">
<path class="c" d="M1566.0,2026.7L1573.0,2013.3L1580.0,1999.9L1587.0,1986.6M1606.5,1949.3L1613.5,1936.0L1620.5,1922.6L1627.5,1909.3M1650.4,1865.5L1657.4,1852.2L1664.4,1838.8L1671.4,1825.4M1687.6,1794.5L1694.6,1781.2L1701.6,1767.8L1708.6,1754.4M1728.2,1706.7L1735.2,1691.0L1742.2,1680.3L1749.2,1669.2M1770.0,1633.9L1777.0,1621.3L1784.0,1608.4L1791.0,1595.2M1809.3,1559.8L1816.3,1546.0L1823.3,1532.2L1830.3,1518.2M1849.8,1479.6L1856.8,1465.8L1863.8,1452.2L1870.8,1438.7" stroke="#ff0000" stroke-width="6"/>
<path class="c" d="M1590.0,2050.3L1601.7,2040.2L1613.3,2030.2L1625.0,2020.1M1654.7,1994.5L1666.4,1984.4L1678.0,1974.3L1689.7,1964.3M1719.6,1932.6L1731.3,1922.4L1742.9,1914.7L1754.6,1906.5M1787.5,1881.0L1799.2,1871.3L1810.8,1861.3L1822.5,1851.2M1855.3,1822.2L1867.0,1811.9L1878.6,1801.7L1890.3,1791.6" stroke="#ffff00" stroke-width="7.5"/>
<path class="c" d="M1547.3,2032.0L1558.6,2020.3L1570.0,2008.5L1581.3,1996.8M1609.4,1967.7L1620.7,1955.9L1632.1,1944.2L1643.4,1932.4M1670.2,1904.7L1681.5,1892.9L1692.9,1881.2L1704.2,1869.5M1729.5,1841.3L1740.8,1829.8L1752.2,1819.2L1763.5,1808.1M1794.5,1776.1L1805.8,1764.0L1817.2,1751.8L1828.5,1739.5M1856.3,1709.7L1867.6,1697.9L1879.0,1686.4L1890.3,1675.1" stroke="#00ffff" stroke-width="7.5"/>
<path class="c" d="M1565.7,2019.5L1575.4,2007.1L1585.0,1994.7L1594.7,1982.4M1620.8,1948.9L1630.5,1936.5L1640.1,1924.2L1649.8,1911.8M1674.4,1880.3L1684.1,1867.9L1693.7,1855.5L1703.4,1843.1M1728.1,1806.2L1737.8,1793.4L1747.4,1782.7L1757.1,1772.0M1783.1,1740.6L1792.8,1728.2L1802.4,1715.7L1812.1,1703.0M1838.0,1669.6L1847.7,1657.5L1857.3,1645.8L1867.0,1634.5" stroke="#ff00ff" stroke-width="7.5"/>
<path class="c" d="M1516.0,2046.1L1525.7,2032.9L1535.3,2019.7L1545.0,2006.5M1568.0,1975.1L1577.7,1961.9L1587.3,1948.7L1597.0,1935.5M1620.8,1903.0L1630.5,1889.8L1640.1,1876.6L1649.8,1863.4M1674.4,1829.8L1684.1,1816.6L1693.7,1803.5L1703.4,1790.3M1725.6,1754.6L1735.3,1742.7L1744.9,1731.5L1754.6,1719.7M1776.6,1691.1L1786.3,1678.0L1795.9,1664.6L1805.6,1651.2M1828.9,1619.0L1838.6,1605.9L1848.2,1593.0L1857.9,1580.3" stroke="#0000ff" stroke-width="7.5"/>
</g>
<path d="M1631.4,1597H1643.2" stroke="#8c8c00" stroke-width="8" fill="none"/>
<path class="k" d="M1169,1323.5V2033.3" stroke-width="3"/>
<path class="k" d="M1167.5,2032H2049" stroke-width="3"/>
<path class="k" d="M1160.5,1324.6H2048.8" stroke-width="2.4"/>
<path class="k" d="M2047.3,1323.5V2045" stroke-width="3"/>
<path class="k" d="M1155.5,1463.8H1169" stroke-width="2.6"/>
<path class="k" d="M1155.5,1748.3H1169" stroke-width="2.6"/>
<path class="k" d="M1161,1606H1169" stroke-width="2.6"/>
<path class="k" d="M1161,1890.4H1169" stroke-width="2.6"/>
<path class="k" d="M1585.4,2032V2043" stroke-width="2.6"/>
<path class="k" d="M1354.3,2032V2037.5" stroke-width="2.6"/>
<path class="k" d="M1815.7,2032V2037.5" stroke-width="2.6"/>
<text x="1147" y="1474.2" font-size="27.5" text-anchor="end" fill="#3a3a3a" letter-spacing="2">0.8</text>
<text x="1147" y="1755.4" font-size="27.5" text-anchor="end" fill="#3a3a3a" letter-spacing="2">0.4</text>
<text x="1147" y="2039.6" font-size="27.5" text-anchor="end" fill="#3a3a3a" letter-spacing="2">0.0</text>
<text x="1585" y="2086.4" font-size="41.5" text-anchor="middle" fill="#222">2.0</text>
<text x="2044.6" y="2086.4" font-size="41.5" text-anchor="middle" fill="#222">2.5</text>
<text class="b2" x="1671.5" y="2119.4" font-size="46" letter-spacing="0.7">Energy (eV)</text>
<text class="b2" x="1981" y="2003" font-size="46">c</text>
<rect x="1174.2" y="1325" width="455" height="360.5" fill="#fff" stroke="#000" stroke-width="2.2"/>
<path d="M1176.3,1360.3H1272.4" stroke="#db9a00" stroke-width="8" fill="none"/>
<text class="b2" x="1277.5" y="1374.0" font-size="50.5">H<tspan font-size="40" dy="10" dx="-0.5" class="n">DHBA</tspan></text>
<text class="b2" x="1472.7" y="1373.3" font-size="42.5">1.98 eV</text>
<path d="M1176.3,1431.3H1272.4" stroke="#00c9c9" stroke-width="8" fill="none"/>
<text class="b2" x="1277.5" y="1445.0" font-size="50.5">H<tspan font-size="40" dy="10" dx="-0.5" class="n">rhod</tspan></text>
<text class="b2" x="1477.5" y="1445.0" font-size="42.5">1.94</text>
<path d="M1176.3,1502.8H1272.4" stroke="#8c4c4c" stroke-width="8" fill="none"/>
<text class="b2" x="1277.5" y="1516.5" font-size="50.5">H<tspan font-size="40" dy="10" dx="-0.5" class="n">caf</tspan></text>
<text class="b2" x="1476.0" y="1515.0" font-size="42.5">1.97</text>
<path d="M1176.3,1574.3H1272.4" stroke="#8c8c00" stroke-width="8" fill="none"/>
<text class="b2" x="1277.5" y="1588.0" font-size="50.5">H<tspan font-size="40" dy="10" dx="-0.5" class="n">mel</tspan></text>
<text class="b2" x="1472.7" y="1586.5" font-size="42.5">1.96</text>
<path d="M1173,1645.8H1235" stroke="#ff7f00" stroke-width="10.5" fill="none"/><path d="M1234,1643.5H1264.2" stroke="#ff7f00" stroke-width="10.5" fill="none"/>
<text class="b2" x="1277.5" y="1658.0" font-size="50.5">H<tspan font-size="40" dy="10" dx="-0.5" class="n">water</tspan></text>
<text class="b2" x="1474.4" y="1669.6" font-size="42.5">2.03</text>
<g transform="translate(1072.8,1872) rotate(-90) scale(0.83,1)"><text class="b3" font-size="48"><tspan x="0.0" y="0">(ahv)</tspan><tspan x="115.7" y="-21" font-size="39.5">2</tspan><tspan x="159.0" y="0">(e</tspan><tspan x="210.8" y="0">V</tspan><tspan x="263.3" y="0">c</tspan><tspan x="292.8" y="0">m</tspan><tspan x="340.4" y="-21" font-size="39.5">-</tspan><tspan x="358.4" y="-21" font-size="39.5">1</tspan><tspan x="383.7" y="0">)</tspan><tspan x="394.0" y="-21" font-size="39.5">2</tspan></text></g>
</g>
</svg></body></html>
